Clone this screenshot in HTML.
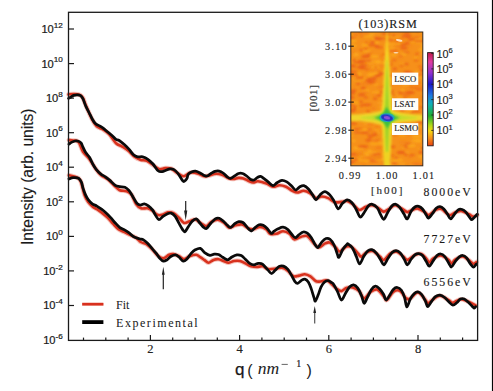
<!DOCTYPE html>
<html><head><meta charset="utf-8"><title>XRR</title>
<style>html,body{margin:0;padding:0;background:#fff;width:493px;height:391px;overflow:hidden}svg{display:block}</style>
</head><body>
<svg width="493" height="391" viewBox="0 0 493 391">
<defs>
<filter id="blur1" x="-50%" y="-50%" width="200%" height="200%"><feGaussianBlur stdDeviation="1.2"/></filter>
<filter id="blur2" x="-50%" y="-50%" width="200%" height="200%"><feGaussianBlur stdDeviation="2"/></filter>
<filter id="blur07" x="-20%" y="-20%" width="140%" height="140%"><feGaussianBlur stdDeviation="0.8"/></filter>
<filter id="blur05" x="-20%" y="-20%" width="140%" height="140%"><feGaussianBlur stdDeviation="0.5"/></filter>
<clipPath id="hclip"><rect x="350.8" y="32" width="72" height="133.8"/></clipPath>
<clipPath id="pclip"><rect x="69" y="12.5" width="408" height="327"/></clipPath>
<linearGradient id="cbar" x1="0" y1="0" x2="0" y2="1"><stop offset="0" stop-color="#c01848"/><stop offset="0.1" stop-color="#e03ca0"/><stop offset="0.22" stop-color="#9030d0"/><stop offset="0.34" stop-color="#1a18c8"/><stop offset="0.46" stop-color="#2078e0"/><stop offset="0.55" stop-color="#10b0b8"/><stop offset="0.68" stop-color="#20b030"/><stop offset="0.78" stop-color="#b0d818"/><stop offset="0.84" stop-color="#f8d810"/><stop offset="0.92" stop-color="#f89018"/><stop offset="1" stop-color="#e84010"/></linearGradient>
<radialGradient id="blob" cx="0.5" cy="0.5" r="0.5"><stop offset="0" stop-color="#7a3ad0"/><stop offset="0.18" stop-color="#3a2ad0"/><stop offset="0.32" stop-color="#2a8ad8"/><stop offset="0.48" stop-color="#20c070"/><stop offset="0.7" stop-color="#78d030" stop-opacity="0.9"/><stop offset="1" stop-color="#d8e030" stop-opacity="0"/></radialGradient>
<linearGradient id="vstreak" x1="0" y1="0" x2="0" y2="1"><stop offset="0" stop-color="#f8b820"/><stop offset="0.2" stop-color="#f4d424"/><stop offset="0.5" stop-color="#e8e02a"/><stop offset="1" stop-color="#f0d020"/></linearGradient>
</defs>
<rect x="0" y="0" width="493" height="391" fill="#fff"/>
<rect x="491" y="0" width="1" height="391" fill="#e8e8e8"/>
<rect x="492" y="0" width="1" height="391" fill="#050505"/>
<path d="M68.50,94.40 C69.37,94.35 71.82,94.02 73.70,94.10 C75.58,94.18 78.27,94.25 79.80,94.90 C81.33,95.55 81.88,96.22 82.90,98.00 C83.92,99.78 84.37,102.03 85.90,105.60 C87.43,109.17 90.30,115.95 92.10,119.40 C93.90,122.85 94.92,124.63 96.70,126.30 C98.48,127.97 100.75,128.12 102.80,129.40 C104.85,130.68 106.80,131.70 109.00,134.00 C111.20,136.30 113.78,141.10 116.00,143.20 C118.22,145.30 120.23,145.35 122.30,146.60 C124.37,147.85 126.35,149.00 128.40,150.70 C130.45,152.40 132.55,155.27 134.60,156.80 C136.65,158.33 138.67,159.22 140.70,159.90 C142.73,160.58 144.75,160.05 146.80,160.90 C148.85,161.75 150.95,163.63 153.00,165.00 C155.05,166.37 157.07,168.58 159.10,169.10 C161.13,169.62 163.15,168.17 165.20,168.10 C167.25,168.03 169.35,167.85 171.40,168.70 C173.45,169.55 175.45,171.93 177.50,173.20 C179.55,174.47 181.63,176.38 183.70,176.30 C185.77,176.22 188.07,173.30 189.90,172.70 C191.73,172.10 193.08,172.43 194.70,172.70 C196.32,172.97 197.97,173.70 199.60,174.30 C201.23,174.90 202.88,176.08 204.50,176.30 C206.12,176.52 207.68,175.98 209.30,175.60 C210.92,175.22 212.57,174.27 214.20,174.00 C215.83,173.73 217.48,173.73 219.10,174.00 C220.72,174.27 222.28,174.87 223.90,175.60 C225.52,176.33 227.17,177.85 228.80,178.40 C230.43,178.95 232.08,178.98 233.70,178.90 C235.32,178.82 236.88,177.98 238.50,177.90 C240.12,177.82 241.77,177.92 243.40,178.40 C245.03,178.88 246.67,180.12 248.30,180.80 C249.93,181.48 251.58,182.42 253.20,182.50 C254.82,182.58 255.78,181.13 258.00,181.30 C260.22,181.47 264.00,182.58 266.50,183.50 C269.00,184.42 270.83,186.52 273.00,186.80 C275.17,187.08 277.33,185.20 279.50,185.20 C281.67,185.20 283.83,185.87 286.00,186.80 C288.17,187.73 290.62,189.85 292.50,190.80 C294.38,191.75 295.42,192.50 297.30,192.50 C299.18,192.50 301.63,190.67 303.80,190.80 C305.97,190.93 308.27,192.08 310.30,193.30 C312.33,194.52 314.10,197.57 316.00,198.10 C317.90,198.63 319.67,196.50 321.70,196.50 C323.73,196.50 326.05,197.15 328.20,198.10 C330.35,199.05 332.38,201.57 334.60,202.20 C336.82,202.83 339.40,202.08 341.50,201.90 C343.60,201.72 345.30,200.70 347.20,201.10 C349.10,201.50 350.88,202.82 352.90,204.30 C354.92,205.78 357.15,209.58 359.30,210.00 C361.45,210.42 363.63,207.60 365.80,206.80 C367.97,206.00 370.13,204.93 372.30,205.20 C374.47,205.47 376.90,207.33 378.80,208.40 C380.70,209.47 382.07,211.47 383.70,211.60 C385.33,211.73 386.72,210.27 388.60,209.20 C390.48,208.13 392.85,205.33 395.00,205.20 C397.15,205.07 399.47,207.25 401.50,208.40 C403.53,209.55 405.60,211.75 407.20,212.10 C408.80,212.45 409.32,211.08 411.10,210.50 C412.88,209.92 415.62,208.33 417.90,208.60 C420.18,208.87 423.02,211.02 424.80,212.10 C426.58,213.18 426.83,215.43 428.60,215.10 C430.37,214.77 433.25,211.12 435.40,210.10 C437.55,209.08 439.22,208.17 441.50,209.00 C443.78,209.83 446.82,214.52 449.10,215.10 C451.38,215.68 453.17,213.18 455.20,212.50 C457.23,211.82 459.02,210.70 461.30,211.00 C463.58,211.30 466.87,213.37 468.90,214.30 C470.93,215.23 472.10,216.47 473.50,216.60 C474.90,216.73 476.67,215.35 477.30,215.10" fill="none" stroke="#ee8a7c" stroke-width="4.6" stroke-linejoin="round" stroke-linecap="round" opacity="0.5"/>
<path d="M68.50,94.40 C69.37,94.35 71.82,94.02 73.70,94.10 C75.58,94.18 78.27,94.25 79.80,94.90 C81.33,95.55 81.88,96.22 82.90,98.00 C83.92,99.78 84.37,102.03 85.90,105.60 C87.43,109.17 90.30,115.95 92.10,119.40 C93.90,122.85 94.92,124.63 96.70,126.30 C98.48,127.97 100.75,128.12 102.80,129.40 C104.85,130.68 106.80,131.70 109.00,134.00 C111.20,136.30 113.78,141.10 116.00,143.20 C118.22,145.30 120.23,145.35 122.30,146.60 C124.37,147.85 126.35,149.00 128.40,150.70 C130.45,152.40 132.55,155.27 134.60,156.80 C136.65,158.33 138.67,159.22 140.70,159.90 C142.73,160.58 144.75,160.05 146.80,160.90 C148.85,161.75 150.95,163.63 153.00,165.00 C155.05,166.37 157.07,168.58 159.10,169.10 C161.13,169.62 163.15,168.17 165.20,168.10 C167.25,168.03 169.35,167.85 171.40,168.70 C173.45,169.55 175.45,171.93 177.50,173.20 C179.55,174.47 181.63,176.38 183.70,176.30 C185.77,176.22 188.07,173.30 189.90,172.70 C191.73,172.10 193.08,172.43 194.70,172.70 C196.32,172.97 197.97,173.70 199.60,174.30 C201.23,174.90 202.88,176.08 204.50,176.30 C206.12,176.52 207.68,175.98 209.30,175.60 C210.92,175.22 212.57,174.27 214.20,174.00 C215.83,173.73 217.48,173.73 219.10,174.00 C220.72,174.27 222.28,174.87 223.90,175.60 C225.52,176.33 227.17,177.85 228.80,178.40 C230.43,178.95 232.08,178.98 233.70,178.90 C235.32,178.82 236.88,177.98 238.50,177.90 C240.12,177.82 241.77,177.92 243.40,178.40 C245.03,178.88 246.67,180.12 248.30,180.80 C249.93,181.48 251.58,182.42 253.20,182.50 C254.82,182.58 255.78,181.13 258.00,181.30 C260.22,181.47 264.00,182.58 266.50,183.50 C269.00,184.42 270.83,186.52 273.00,186.80 C275.17,187.08 277.33,185.20 279.50,185.20 C281.67,185.20 283.83,185.87 286.00,186.80 C288.17,187.73 290.62,189.85 292.50,190.80 C294.38,191.75 295.42,192.50 297.30,192.50 C299.18,192.50 301.63,190.67 303.80,190.80 C305.97,190.93 308.27,192.08 310.30,193.30 C312.33,194.52 314.10,197.57 316.00,198.10 C317.90,198.63 319.67,196.50 321.70,196.50 C323.73,196.50 326.05,197.15 328.20,198.10 C330.35,199.05 332.38,201.57 334.60,202.20 C336.82,202.83 339.40,202.08 341.50,201.90 C343.60,201.72 345.30,200.70 347.20,201.10 C349.10,201.50 350.88,202.82 352.90,204.30 C354.92,205.78 357.15,209.58 359.30,210.00 C361.45,210.42 363.63,207.60 365.80,206.80 C367.97,206.00 370.13,204.93 372.30,205.20 C374.47,205.47 376.90,207.33 378.80,208.40 C380.70,209.47 382.07,211.47 383.70,211.60 C385.33,211.73 386.72,210.27 388.60,209.20 C390.48,208.13 392.85,205.33 395.00,205.20 C397.15,205.07 399.47,207.25 401.50,208.40 C403.53,209.55 405.60,211.75 407.20,212.10 C408.80,212.45 409.32,211.08 411.10,210.50 C412.88,209.92 415.62,208.33 417.90,208.60 C420.18,208.87 423.02,211.02 424.80,212.10 C426.58,213.18 426.83,215.43 428.60,215.10 C430.37,214.77 433.25,211.12 435.40,210.10 C437.55,209.08 439.22,208.17 441.50,209.00 C443.78,209.83 446.82,214.52 449.10,215.10 C451.38,215.68 453.17,213.18 455.20,212.50 C457.23,211.82 459.02,210.70 461.30,211.00 C463.58,211.30 466.87,213.37 468.90,214.30 C470.93,215.23 472.10,216.47 473.50,216.60 C474.90,216.73 476.67,215.35 477.30,215.10" fill="none" stroke="#d8321e" stroke-width="2.6" stroke-linejoin="round" stroke-linecap="round"/>
<path d="M68.90,140.10 C69.62,140.18 71.60,140.30 73.20,140.60 C74.80,140.90 76.87,140.05 78.50,141.90 C80.13,143.75 81.20,148.87 83.00,151.70 C84.80,154.53 87.20,156.07 89.30,158.90 C91.40,161.73 93.67,166.02 95.60,168.70 C97.53,171.38 98.82,173.20 100.90,175.00 C102.98,176.80 105.85,177.72 108.10,179.50 C110.35,181.28 112.47,183.92 114.40,185.70 C116.33,187.48 117.68,189.28 119.70,190.20 C121.72,191.12 124.55,190.48 126.50,191.20 C128.45,191.92 129.78,192.33 131.40,194.50 C133.02,196.67 134.58,201.90 136.20,204.20 C137.82,206.50 139.20,207.62 141.10,208.30 C143.00,208.98 145.70,207.90 147.60,208.30 C149.50,208.70 150.88,209.62 152.50,210.70 C154.12,211.78 155.68,214.12 157.30,214.80 C158.92,215.48 160.43,215.22 162.20,214.80 C163.97,214.38 166.02,212.58 167.90,212.30 C169.78,212.02 171.62,212.15 173.50,213.10 C175.38,214.05 177.43,216.37 179.20,218.00 C180.97,219.63 182.33,222.37 184.10,222.90 C185.87,223.43 187.90,221.75 189.80,221.20 C191.70,220.65 193.55,219.18 195.50,219.60 C197.45,220.02 199.68,222.62 201.50,223.70 C203.32,224.78 204.78,226.38 206.40,226.10 C208.02,225.82 209.32,223.08 211.20,222.00 C213.08,220.92 215.53,219.45 217.70,219.60 C219.87,219.75 222.30,221.55 224.20,222.90 C226.10,224.25 227.20,227.30 229.10,227.70 C231.00,228.10 233.43,225.83 235.60,225.30 C237.77,224.77 239.95,223.97 242.10,224.50 C244.25,225.03 246.62,227.70 248.50,228.50 C250.38,229.30 251.50,229.57 253.40,229.30 C255.30,229.03 257.73,226.90 259.90,226.90 C262.07,226.90 264.72,228.17 266.40,229.30 C268.08,230.43 268.32,232.97 270.00,233.70 C271.68,234.43 274.33,234.12 276.50,233.70 C278.67,233.28 280.83,231.20 283.00,231.20 C285.17,231.20 287.62,232.35 289.50,233.70 C291.38,235.05 292.42,238.77 294.30,239.30 C296.18,239.83 298.63,237.43 300.80,236.90 C302.97,236.37 305.13,235.02 307.30,236.10 C309.47,237.18 311.90,241.50 313.80,243.40 C315.70,245.30 316.80,247.50 318.70,247.50 C320.60,247.50 323.32,244.22 325.20,243.40 C327.08,242.58 328.25,241.92 330.00,242.60 C331.75,243.28 334.07,246.02 335.70,247.50 C337.33,248.98 338.03,251.65 339.80,251.50 C341.57,251.35 344.35,247.37 346.30,246.60 C348.25,245.83 349.55,245.77 351.50,246.90 C353.45,248.03 356.38,251.78 358.00,253.40 C359.62,255.02 359.85,256.73 361.20,256.60 C362.55,256.47 364.20,253.53 366.10,252.60 C368.00,251.67 370.30,250.33 372.60,251.00 C374.90,251.67 378.02,255.12 379.90,256.60 C381.78,258.08 382.15,260.43 383.90,259.90 C385.65,259.37 388.23,254.75 390.40,253.40 C392.57,252.05 394.73,251.27 396.90,251.80 C399.07,252.33 401.63,255.25 403.40,256.60 C405.17,257.95 405.60,260.17 407.50,259.90 C409.40,259.63 412.50,256.00 414.80,255.00 C417.10,254.00 419.38,253.30 421.30,253.90 C423.22,254.50 424.97,257.17 426.30,258.60 C427.63,260.03 428.17,262.52 429.30,262.50 C430.43,262.48 431.18,259.67 433.10,258.50 C435.02,257.33 438.25,255.28 440.80,255.50 C443.35,255.72 446.63,258.47 448.40,259.80 C450.17,261.13 450.27,263.53 451.40,263.50 C452.53,263.47 453.30,260.77 455.20,259.60 C457.10,258.43 460.27,256.18 462.80,256.50 C465.33,256.82 468.62,260.28 470.40,261.50 C472.18,262.72 472.48,263.72 473.50,263.80 C474.52,263.88 476.00,262.30 476.50,262.00" fill="none" stroke="#ee8a7c" stroke-width="4.6" stroke-linejoin="round" stroke-linecap="round" opacity="0.5"/>
<path d="M68.90,140.10 C69.62,140.18 71.60,140.30 73.20,140.60 C74.80,140.90 76.87,140.05 78.50,141.90 C80.13,143.75 81.20,148.87 83.00,151.70 C84.80,154.53 87.20,156.07 89.30,158.90 C91.40,161.73 93.67,166.02 95.60,168.70 C97.53,171.38 98.82,173.20 100.90,175.00 C102.98,176.80 105.85,177.72 108.10,179.50 C110.35,181.28 112.47,183.92 114.40,185.70 C116.33,187.48 117.68,189.28 119.70,190.20 C121.72,191.12 124.55,190.48 126.50,191.20 C128.45,191.92 129.78,192.33 131.40,194.50 C133.02,196.67 134.58,201.90 136.20,204.20 C137.82,206.50 139.20,207.62 141.10,208.30 C143.00,208.98 145.70,207.90 147.60,208.30 C149.50,208.70 150.88,209.62 152.50,210.70 C154.12,211.78 155.68,214.12 157.30,214.80 C158.92,215.48 160.43,215.22 162.20,214.80 C163.97,214.38 166.02,212.58 167.90,212.30 C169.78,212.02 171.62,212.15 173.50,213.10 C175.38,214.05 177.43,216.37 179.20,218.00 C180.97,219.63 182.33,222.37 184.10,222.90 C185.87,223.43 187.90,221.75 189.80,221.20 C191.70,220.65 193.55,219.18 195.50,219.60 C197.45,220.02 199.68,222.62 201.50,223.70 C203.32,224.78 204.78,226.38 206.40,226.10 C208.02,225.82 209.32,223.08 211.20,222.00 C213.08,220.92 215.53,219.45 217.70,219.60 C219.87,219.75 222.30,221.55 224.20,222.90 C226.10,224.25 227.20,227.30 229.10,227.70 C231.00,228.10 233.43,225.83 235.60,225.30 C237.77,224.77 239.95,223.97 242.10,224.50 C244.25,225.03 246.62,227.70 248.50,228.50 C250.38,229.30 251.50,229.57 253.40,229.30 C255.30,229.03 257.73,226.90 259.90,226.90 C262.07,226.90 264.72,228.17 266.40,229.30 C268.08,230.43 268.32,232.97 270.00,233.70 C271.68,234.43 274.33,234.12 276.50,233.70 C278.67,233.28 280.83,231.20 283.00,231.20 C285.17,231.20 287.62,232.35 289.50,233.70 C291.38,235.05 292.42,238.77 294.30,239.30 C296.18,239.83 298.63,237.43 300.80,236.90 C302.97,236.37 305.13,235.02 307.30,236.10 C309.47,237.18 311.90,241.50 313.80,243.40 C315.70,245.30 316.80,247.50 318.70,247.50 C320.60,247.50 323.32,244.22 325.20,243.40 C327.08,242.58 328.25,241.92 330.00,242.60 C331.75,243.28 334.07,246.02 335.70,247.50 C337.33,248.98 338.03,251.65 339.80,251.50 C341.57,251.35 344.35,247.37 346.30,246.60 C348.25,245.83 349.55,245.77 351.50,246.90 C353.45,248.03 356.38,251.78 358.00,253.40 C359.62,255.02 359.85,256.73 361.20,256.60 C362.55,256.47 364.20,253.53 366.10,252.60 C368.00,251.67 370.30,250.33 372.60,251.00 C374.90,251.67 378.02,255.12 379.90,256.60 C381.78,258.08 382.15,260.43 383.90,259.90 C385.65,259.37 388.23,254.75 390.40,253.40 C392.57,252.05 394.73,251.27 396.90,251.80 C399.07,252.33 401.63,255.25 403.40,256.60 C405.17,257.95 405.60,260.17 407.50,259.90 C409.40,259.63 412.50,256.00 414.80,255.00 C417.10,254.00 419.38,253.30 421.30,253.90 C423.22,254.50 424.97,257.17 426.30,258.60 C427.63,260.03 428.17,262.52 429.30,262.50 C430.43,262.48 431.18,259.67 433.10,258.50 C435.02,257.33 438.25,255.28 440.80,255.50 C443.35,255.72 446.63,258.47 448.40,259.80 C450.17,261.13 450.27,263.53 451.40,263.50 C452.53,263.47 453.30,260.77 455.20,259.60 C457.10,258.43 460.27,256.18 462.80,256.50 C465.33,256.82 468.62,260.28 470.40,261.50 C472.18,262.72 472.48,263.72 473.50,263.80 C474.52,263.88 476.00,262.30 476.50,262.00" fill="none" stroke="#d8321e" stroke-width="2.6" stroke-linejoin="round" stroke-linecap="round"/>
<path d="M68.90,175.30 C69.92,175.55 73.10,175.95 75.00,176.80 C76.90,177.65 78.70,177.32 80.30,180.40 C81.90,183.48 83.25,191.67 84.60,195.30 C85.95,198.93 87.00,200.27 88.40,202.20 C89.80,204.13 91.58,205.73 93.00,206.90 C94.42,208.07 95.37,208.18 96.90,209.20 C98.43,210.22 100.42,211.60 102.20,213.00 C103.98,214.40 105.80,215.82 107.60,217.60 C109.40,219.38 111.20,221.78 113.00,223.70 C114.80,225.62 116.48,227.68 118.40,229.10 C120.32,230.52 122.47,231.18 124.50,232.20 C126.53,233.22 128.55,234.18 130.60,235.20 C132.65,236.22 135.12,237.17 136.80,238.30 C138.48,239.43 139.10,241.02 140.70,242.00 C142.30,242.98 144.52,243.02 146.40,244.20 C148.28,245.38 150.12,247.22 152.00,249.10 C153.88,250.98 155.80,253.95 157.70,255.50 C159.60,257.05 161.50,258.52 163.40,258.40 C165.30,258.28 167.45,255.52 169.10,254.80 C170.75,254.08 171.65,253.87 173.30,254.10 C174.95,254.33 177.22,255.37 179.00,256.20 C180.78,257.03 182.22,259.10 184.00,259.10 C185.78,259.10 187.68,256.92 189.70,256.20 C191.72,255.48 194.35,254.63 196.10,254.80 C197.85,254.97 198.83,256.35 200.20,257.20 C201.57,258.05 202.92,258.98 204.30,259.90 C205.68,260.82 206.97,262.70 208.50,262.70 C210.03,262.70 211.83,260.48 213.50,259.90 C215.17,259.32 216.73,258.97 218.50,259.20 C220.27,259.43 222.45,260.72 224.10,261.30 C225.75,261.88 226.73,262.75 228.40,262.70 C230.07,262.65 232.20,261.28 234.10,261.00 C236.00,260.72 237.92,260.60 239.80,261.00 C241.68,261.40 243.52,262.52 245.40,263.40 C247.28,264.28 249.20,265.70 251.10,266.30 C253.00,266.90 254.90,267.00 256.80,267.00 C258.70,267.00 260.60,265.95 262.50,266.30 C264.40,266.65 265.88,268.73 268.20,269.10 C270.52,269.47 274.10,268.72 276.40,268.50 C278.70,268.28 280.12,267.45 282.00,267.80 C283.88,268.15 285.80,269.18 287.70,270.60 C289.60,272.02 291.50,275.47 293.40,276.30 C295.30,277.13 297.20,275.95 299.10,275.60 C301.00,275.25 302.92,274.08 304.80,274.20 C306.68,274.32 308.52,275.12 310.40,276.30 C312.28,277.48 314.20,280.47 316.10,281.30 C318.00,282.13 319.90,281.42 321.80,281.30 C323.70,281.18 325.05,279.37 327.50,280.60 C329.95,281.83 334.18,286.95 336.50,288.70 C338.82,290.45 339.78,291.23 341.40,291.10 C343.02,290.97 344.32,288.50 346.20,287.90 C348.08,287.30 350.53,286.97 352.70,287.50 C354.87,288.03 357.30,289.28 359.20,291.10 C361.10,292.92 362.20,298.27 364.10,298.40 C366.00,298.53 368.43,293.38 370.60,291.90 C372.77,290.42 374.95,288.82 377.10,289.50 C379.25,290.18 381.88,294.25 383.50,296.00 C385.12,297.75 385.17,300.68 386.80,300.00 C388.43,299.32 391.13,293.43 393.30,291.90 C395.47,290.37 397.63,289.72 399.80,290.80 C401.97,291.88 404.55,297.12 406.30,298.40 C408.05,299.68 408.37,299.48 410.30,298.50 C412.23,297.52 415.37,292.25 417.90,292.50 C420.43,292.75 423.85,298.15 425.50,300.00 C427.15,301.85 426.78,303.52 427.80,303.60 C428.82,303.68 429.57,301.80 431.60,300.50 C433.63,299.20 437.08,295.80 440.00,295.80 C442.92,295.80 446.95,299.33 449.10,300.50 C451.25,301.67 451.00,303.02 452.90,302.80 C454.80,302.58 457.97,299.42 460.50,299.20 C463.03,298.98 465.57,300.45 468.10,301.50 C470.63,302.55 474.43,304.83 475.70,305.50" fill="none" stroke="#ee8a7c" stroke-width="4.6" stroke-linejoin="round" stroke-linecap="round" opacity="0.5"/>
<path d="M68.90,175.30 C69.92,175.55 73.10,175.95 75.00,176.80 C76.90,177.65 78.70,177.32 80.30,180.40 C81.90,183.48 83.25,191.67 84.60,195.30 C85.95,198.93 87.00,200.27 88.40,202.20 C89.80,204.13 91.58,205.73 93.00,206.90 C94.42,208.07 95.37,208.18 96.90,209.20 C98.43,210.22 100.42,211.60 102.20,213.00 C103.98,214.40 105.80,215.82 107.60,217.60 C109.40,219.38 111.20,221.78 113.00,223.70 C114.80,225.62 116.48,227.68 118.40,229.10 C120.32,230.52 122.47,231.18 124.50,232.20 C126.53,233.22 128.55,234.18 130.60,235.20 C132.65,236.22 135.12,237.17 136.80,238.30 C138.48,239.43 139.10,241.02 140.70,242.00 C142.30,242.98 144.52,243.02 146.40,244.20 C148.28,245.38 150.12,247.22 152.00,249.10 C153.88,250.98 155.80,253.95 157.70,255.50 C159.60,257.05 161.50,258.52 163.40,258.40 C165.30,258.28 167.45,255.52 169.10,254.80 C170.75,254.08 171.65,253.87 173.30,254.10 C174.95,254.33 177.22,255.37 179.00,256.20 C180.78,257.03 182.22,259.10 184.00,259.10 C185.78,259.10 187.68,256.92 189.70,256.20 C191.72,255.48 194.35,254.63 196.10,254.80 C197.85,254.97 198.83,256.35 200.20,257.20 C201.57,258.05 202.92,258.98 204.30,259.90 C205.68,260.82 206.97,262.70 208.50,262.70 C210.03,262.70 211.83,260.48 213.50,259.90 C215.17,259.32 216.73,258.97 218.50,259.20 C220.27,259.43 222.45,260.72 224.10,261.30 C225.75,261.88 226.73,262.75 228.40,262.70 C230.07,262.65 232.20,261.28 234.10,261.00 C236.00,260.72 237.92,260.60 239.80,261.00 C241.68,261.40 243.52,262.52 245.40,263.40 C247.28,264.28 249.20,265.70 251.10,266.30 C253.00,266.90 254.90,267.00 256.80,267.00 C258.70,267.00 260.60,265.95 262.50,266.30 C264.40,266.65 265.88,268.73 268.20,269.10 C270.52,269.47 274.10,268.72 276.40,268.50 C278.70,268.28 280.12,267.45 282.00,267.80 C283.88,268.15 285.80,269.18 287.70,270.60 C289.60,272.02 291.50,275.47 293.40,276.30 C295.30,277.13 297.20,275.95 299.10,275.60 C301.00,275.25 302.92,274.08 304.80,274.20 C306.68,274.32 308.52,275.12 310.40,276.30 C312.28,277.48 314.20,280.47 316.10,281.30 C318.00,282.13 319.90,281.42 321.80,281.30 C323.70,281.18 325.05,279.37 327.50,280.60 C329.95,281.83 334.18,286.95 336.50,288.70 C338.82,290.45 339.78,291.23 341.40,291.10 C343.02,290.97 344.32,288.50 346.20,287.90 C348.08,287.30 350.53,286.97 352.70,287.50 C354.87,288.03 357.30,289.28 359.20,291.10 C361.10,292.92 362.20,298.27 364.10,298.40 C366.00,298.53 368.43,293.38 370.60,291.90 C372.77,290.42 374.95,288.82 377.10,289.50 C379.25,290.18 381.88,294.25 383.50,296.00 C385.12,297.75 385.17,300.68 386.80,300.00 C388.43,299.32 391.13,293.43 393.30,291.90 C395.47,290.37 397.63,289.72 399.80,290.80 C401.97,291.88 404.55,297.12 406.30,298.40 C408.05,299.68 408.37,299.48 410.30,298.50 C412.23,297.52 415.37,292.25 417.90,292.50 C420.43,292.75 423.85,298.15 425.50,300.00 C427.15,301.85 426.78,303.52 427.80,303.60 C428.82,303.68 429.57,301.80 431.60,300.50 C433.63,299.20 437.08,295.80 440.00,295.80 C442.92,295.80 446.95,299.33 449.10,300.50 C451.25,301.67 451.00,303.02 452.90,302.80 C454.80,302.58 457.97,299.42 460.50,299.20 C463.03,298.98 465.57,300.45 468.10,301.50 C470.63,302.55 474.43,304.83 475.70,305.50" fill="none" stroke="#d8321e" stroke-width="2.6" stroke-linejoin="round" stroke-linecap="round"/>
<path d="M68.50,98.40 C68.85,98.20 69.73,97.70 70.60,97.20 C71.47,96.70 72.55,95.78 73.70,95.40 C74.85,95.02 76.35,94.85 77.50,94.90 C78.65,94.95 79.70,95.07 80.60,95.70 C81.50,96.33 82.02,96.92 82.90,98.70 C83.78,100.48 84.88,104.10 85.90,106.40 C86.92,108.70 87.97,110.45 89.00,112.50 C90.03,114.55 91.08,116.90 92.10,118.70 C93.12,120.50 93.95,122.15 95.10,123.30 C96.25,124.45 97.72,124.83 99.00,125.60 C100.28,126.37 101.40,126.88 102.80,127.90 C104.20,128.92 105.87,130.43 107.40,131.70 C108.93,132.97 110.57,134.22 112.00,135.50 C113.43,136.78 114.80,138.57 116.00,139.40 C117.20,140.23 117.82,139.63 119.20,140.50 C120.58,141.37 122.60,143.07 124.30,144.60 C126.00,146.13 127.87,148.00 129.40,149.70 C130.93,151.40 132.13,153.62 133.50,154.80 C134.87,155.98 136.07,156.47 137.60,156.80 C139.13,157.13 140.98,156.38 142.70,156.80 C144.42,157.22 146.18,158.10 147.90,159.30 C149.62,160.50 151.30,162.08 153.00,164.00 C154.70,165.92 156.57,169.53 158.10,170.80 C159.63,172.07 160.88,171.70 162.20,171.60 C163.52,171.50 164.70,170.67 166.00,170.20 C167.30,169.73 168.67,168.90 170.00,168.80 C171.33,168.70 172.67,168.82 174.00,169.60 C175.33,170.38 176.57,171.67 178.00,173.50 C179.43,175.33 181.55,179.30 182.60,180.60 C183.65,181.90 183.57,181.68 184.30,181.30 C185.03,180.92 186.35,179.47 187.00,178.30 C187.65,177.13 187.45,175.37 188.20,174.30 C188.95,173.23 190.28,172.43 191.50,171.90 C192.72,171.37 194.15,170.97 195.50,171.10 C196.85,171.23 198.23,172.02 199.60,172.70 C200.97,173.38 202.48,174.65 203.70,175.20 C204.92,175.75 205.68,176.28 206.90,176.00 C208.12,175.72 209.65,174.27 211.00,173.50 C212.35,172.73 213.65,171.80 215.00,171.40 C216.35,171.00 217.75,170.83 219.10,171.10 C220.45,171.37 221.75,172.05 223.10,173.00 C224.45,173.95 225.98,175.90 227.20,176.80 C228.42,177.70 229.18,178.53 230.40,178.40 C231.62,178.27 233.15,176.82 234.50,176.00 C235.85,175.18 237.15,173.92 238.50,173.50 C239.85,173.08 241.23,173.08 242.60,173.50 C243.97,173.92 245.35,175.00 246.70,176.00 C248.05,177.00 249.48,178.83 250.70,179.50 C251.92,180.17 252.92,180.32 254.00,180.00 C255.08,179.68 256.12,178.22 257.20,177.60 C258.28,176.98 259.35,176.12 260.50,176.30 C261.65,176.48 262.83,177.77 264.10,178.70 C265.37,179.63 266.62,180.75 268.10,181.90 C269.58,183.05 271.52,185.47 273.00,185.60 C274.48,185.73 275.52,183.58 277.00,182.70 C278.48,181.82 280.27,180.43 281.90,180.30 C283.53,180.17 285.18,180.95 286.80,181.90 C288.42,182.85 290.12,184.65 291.60,186.00 C293.08,187.35 294.33,189.87 295.70,190.00 C297.07,190.13 298.45,187.53 299.80,186.80 C301.15,186.07 302.32,185.20 303.80,185.60 C305.28,186.00 307.22,187.65 308.70,189.20 C310.18,190.75 311.48,193.13 312.70,194.90 C313.92,196.67 314.78,199.80 316.00,199.80 C317.22,199.80 318.52,196.27 320.00,194.90 C321.48,193.53 323.27,191.60 324.90,191.60 C326.53,191.60 328.32,193.40 329.80,194.90 C331.28,196.40 332.40,198.27 333.80,200.60 C335.20,202.93 336.78,208.42 338.20,208.90 C339.62,209.38 340.80,205.02 342.30,203.50 C343.80,201.98 345.58,199.93 347.20,199.80 C348.82,199.67 350.52,201.13 352.00,202.70 C353.48,204.27 354.73,206.82 356.10,209.20 C357.47,211.58 358.85,216.45 360.20,217.00 C361.55,217.55 362.85,214.33 364.20,212.50 C365.55,210.67 366.95,207.37 368.30,206.00 C369.65,204.63 370.82,204.03 372.30,204.30 C373.78,204.57 375.85,205.97 377.20,207.60 C378.55,209.23 379.32,212.15 380.40,214.10 C381.48,216.05 382.48,219.57 383.70,219.30 C384.92,219.03 386.35,214.72 387.70,212.50 C389.05,210.28 390.43,207.37 391.80,206.00 C393.17,204.63 394.55,204.03 395.90,204.30 C397.25,204.57 398.55,205.97 399.90,207.60 C401.25,209.23 402.78,212.22 404.00,214.10 C405.22,215.98 406.02,219.37 407.20,218.90 C408.38,218.43 409.82,213.28 411.10,211.30 C412.38,209.32 413.63,207.82 414.90,207.00 C416.17,206.18 417.43,206.07 418.70,206.40 C419.97,206.73 421.23,207.55 422.50,209.00 C423.77,210.45 425.28,213.58 426.30,215.10 C427.32,216.62 427.58,218.35 428.60,218.10 C429.62,217.85 431.13,215.23 432.40,213.60 C433.67,211.97 434.93,209.45 436.20,208.30 C437.47,207.15 438.73,206.58 440.00,206.70 C441.27,206.82 442.53,207.73 443.80,209.00 C445.07,210.27 446.47,212.65 447.60,214.30 C448.73,215.95 449.47,218.90 450.60,218.90 C451.73,218.90 453.13,215.82 454.40,214.30 C455.67,212.78 456.92,210.60 458.20,209.80 C459.48,209.00 460.82,209.12 462.10,209.50 C463.38,209.88 464.63,210.78 465.90,212.10 C467.17,213.42 468.70,216.13 469.70,217.40 C470.70,218.67 471.02,219.83 471.90,219.70 C472.78,219.57 474.10,217.50 475.00,216.60 C475.90,215.70 476.92,214.68 477.30,214.30" fill="none" stroke="#0a0a0a" stroke-width="2.75" stroke-linejoin="round" stroke-linecap="round"/>
<path d="M68.90,144.20 C69.32,143.90 70.38,142.93 71.40,142.40 C72.42,141.87 73.82,141.18 75.00,141.00 C76.18,140.82 77.47,140.95 78.50,141.30 C79.53,141.65 80.45,142.12 81.20,143.10 C81.95,144.08 82.25,145.62 83.00,147.20 C83.75,148.78 84.65,150.95 85.70,152.60 C86.75,154.25 88.10,155.17 89.30,157.10 C90.50,159.03 91.72,162.12 92.90,164.20 C94.08,166.28 95.07,167.95 96.40,169.60 C97.73,171.25 99.40,172.90 100.90,174.10 C102.40,175.30 103.90,175.75 105.40,176.80 C106.90,177.85 108.25,178.97 109.90,180.40 C111.55,181.83 113.67,184.37 115.30,185.40 C116.93,186.43 118.10,186.30 119.70,186.60 C121.30,186.90 123.37,186.57 124.90,187.20 C126.43,187.83 127.55,188.78 128.90,190.40 C130.25,192.02 131.65,194.73 133.00,196.90 C134.35,199.07 135.78,202.05 137.00,203.40 C138.22,204.75 139.08,204.92 140.30,205.00 C141.52,205.08 142.95,203.77 144.30,203.90 C145.65,204.03 147.03,204.80 148.40,205.80 C149.77,206.80 151.28,208.27 152.50,209.90 C153.72,211.53 154.63,213.98 155.70,215.60 C156.77,217.22 157.68,219.47 158.90,219.60 C160.12,219.73 161.63,217.35 163.00,216.40 C164.37,215.45 165.75,214.45 167.10,213.90 C168.45,213.35 169.75,212.68 171.10,213.10 C172.45,213.52 173.85,214.63 175.20,216.40 C176.55,218.17 177.98,221.53 179.20,223.70 C180.42,225.87 181.55,228.05 182.50,229.40 C183.45,230.75 183.95,232.22 184.90,231.80 C185.85,231.38 186.98,228.67 188.20,226.90 C189.42,225.13 190.85,222.55 192.20,221.20 C193.55,219.85 195.15,218.67 196.30,218.80 C197.45,218.93 197.97,220.65 199.10,222.00 C200.23,223.35 201.88,225.82 203.10,226.90 C204.32,227.98 205.18,229.03 206.40,228.50 C207.62,227.97 208.92,225.32 210.40,223.70 C211.88,222.08 213.82,219.70 215.30,218.80 C216.78,217.90 217.95,217.90 219.30,218.30 C220.65,218.70 222.03,220.03 223.40,221.20 C224.77,222.37 226.28,224.27 227.50,225.30 C228.72,226.33 229.48,227.67 230.70,227.40 C231.92,227.13 233.45,224.67 234.80,223.70 C236.15,222.73 237.45,221.80 238.80,221.60 C240.15,221.40 241.55,221.62 242.90,222.50 C244.25,223.38 245.55,225.48 246.90,226.90 C248.25,228.32 249.65,230.87 251.00,231.00 C252.35,231.13 253.65,228.73 255.00,227.70 C256.35,226.67 257.73,225.20 259.10,224.80 C260.47,224.40 261.85,224.68 263.20,225.30 C264.55,225.92 265.85,227.15 267.20,228.50 C268.55,229.85 270.15,232.95 271.30,233.40 C272.45,233.85 272.97,231.97 274.10,231.20 C275.23,230.43 276.62,229.47 278.10,228.80 C279.58,228.13 281.37,227.07 283.00,227.20 C284.63,227.33 286.42,228.38 287.90,229.60 C289.38,230.82 290.68,233.15 291.90,234.50 C293.12,235.85 293.98,237.70 295.20,237.70 C296.42,237.70 297.85,235.45 299.20,234.50 C300.55,233.55 301.95,232.22 303.30,232.00 C304.65,231.78 305.95,232.25 307.30,233.20 C308.65,234.15 310.05,235.73 311.40,237.70 C312.75,239.67 314.32,243.37 315.40,245.00 C316.48,246.63 316.82,248.03 317.90,247.50 C318.98,246.97 320.55,243.30 321.90,241.80 C323.25,240.30 324.65,238.92 326.00,238.50 C327.35,238.08 328.65,238.22 330.00,239.30 C331.35,240.38 332.88,242.57 334.10,245.00 C335.32,247.43 336.48,251.87 337.30,253.90 C338.12,255.93 338.05,258.00 339.00,257.20 C339.95,256.40 341.65,251.27 343.00,249.10 C344.35,246.93 346.23,245.03 347.10,244.20 C347.97,243.37 347.33,243.52 348.20,244.10 C349.07,244.68 350.93,245.62 352.30,247.70 C353.67,249.78 355.18,253.90 356.40,256.60 C357.62,259.30 358.38,263.90 359.60,263.90 C360.82,263.90 362.35,258.75 363.70,256.60 C365.05,254.45 366.35,252.15 367.70,251.00 C369.05,249.85 370.32,249.30 371.80,249.70 C373.28,250.10 375.12,251.70 376.60,253.40 C378.08,255.10 379.48,258.00 380.70,259.90 C381.92,261.80 382.68,265.07 383.90,264.80 C385.12,264.53 386.63,260.33 388.00,258.30 C389.37,256.27 390.75,253.88 392.10,252.60 C393.45,251.32 394.75,250.55 396.10,250.60 C397.45,250.65 398.85,251.48 400.20,252.90 C401.55,254.32 403.00,257.12 404.20,259.10 C405.40,261.08 406.25,264.77 407.40,264.80 C408.55,264.83 409.85,260.97 411.10,259.30 C412.35,257.63 413.63,255.75 414.90,254.80 C416.17,253.85 417.43,253.48 418.70,253.60 C419.97,253.72 421.23,254.17 422.50,255.50 C423.77,256.83 425.17,259.82 426.30,261.60 C427.43,263.38 428.17,266.32 429.30,266.20 C430.43,266.08 431.82,262.68 433.10,260.90 C434.38,259.12 435.72,256.65 437.00,255.50 C438.28,254.35 439.53,253.87 440.80,254.00 C442.07,254.13 443.33,254.90 444.60,256.30 C445.87,257.70 447.27,260.62 448.40,262.40 C449.53,264.18 450.27,267.13 451.40,267.00 C452.53,266.87 453.93,263.25 455.20,261.60 C456.47,259.95 457.73,258.12 459.00,257.10 C460.27,256.08 461.53,255.38 462.80,255.50 C464.07,255.62 465.33,256.40 466.60,257.80 C467.87,259.20 469.25,262.37 470.40,263.90 C471.55,265.43 472.48,267.00 473.50,267.00 C474.52,267.00 476.00,264.42 476.50,263.90" fill="none" stroke="#0a0a0a" stroke-width="2.75" stroke-linejoin="round" stroke-linecap="round"/>
<path d="M68.90,178.90 C69.62,178.70 71.60,177.82 73.20,177.70 C74.80,177.58 77.12,177.43 78.50,178.20 C79.88,178.97 80.73,180.60 81.50,182.30 C82.27,184.00 82.45,186.35 83.10,188.40 C83.75,190.45 84.52,192.68 85.40,194.60 C86.28,196.52 87.25,198.37 88.40,199.90 C89.55,201.43 90.88,202.77 92.30,203.80 C93.72,204.83 95.37,205.20 96.90,206.10 C98.43,207.00 99.97,208.05 101.50,209.20 C103.03,210.35 104.57,211.60 106.10,213.00 C107.63,214.40 109.17,215.93 110.70,217.60 C112.23,219.27 113.77,221.33 115.30,223.00 C116.83,224.67 118.37,226.45 119.90,227.60 C121.43,228.75 122.97,229.02 124.50,229.90 C126.03,230.78 127.57,231.75 129.10,232.90 C130.63,234.05 132.00,235.82 133.70,236.80 C135.40,237.78 137.67,238.28 139.30,238.80 C140.93,239.32 142.08,239.12 143.50,239.90 C144.92,240.68 146.38,242.08 147.80,243.50 C149.22,244.92 150.58,246.75 152.00,248.40 C153.42,250.05 155.00,251.73 156.30,253.40 C157.60,255.07 158.62,257.10 159.80,258.40 C160.98,259.70 162.20,260.97 163.40,261.20 C164.60,261.43 165.70,260.63 167.00,259.80 C168.30,258.97 169.78,257.03 171.20,256.20 C172.62,255.37 174.20,254.67 175.50,254.80 C176.80,254.93 177.70,255.93 179.00,257.00 C180.30,258.07 182.00,260.85 183.30,261.20 C184.60,261.55 185.50,260.40 186.80,259.10 C188.10,257.80 189.68,254.95 191.10,253.40 C192.52,251.85 193.77,250.63 195.30,249.80 C196.83,248.97 198.68,247.90 200.30,248.40 C201.92,248.90 203.40,251.65 205.00,252.80 C206.60,253.95 208.37,255.07 209.90,255.30 C211.43,255.53 212.77,254.33 214.20,254.20 C215.63,254.07 217.08,253.98 218.50,254.50 C219.92,255.02 221.17,256.40 222.70,257.30 C224.23,258.20 226.17,259.95 227.70,259.90 C229.23,259.85 230.37,257.83 231.90,257.00 C233.43,256.17 235.35,255.13 236.90,254.90 C238.45,254.67 239.78,254.88 241.20,255.60 C242.62,256.32 243.98,257.90 245.40,259.20 C246.82,260.50 248.27,262.47 249.70,263.40 C251.13,264.33 252.58,264.80 254.00,264.80 C255.42,264.80 256.78,263.52 258.20,263.40 C259.62,263.28 260.90,263.02 262.50,264.10 C264.10,265.18 266.32,268.33 267.80,269.90 C269.28,271.47 270.22,273.38 271.40,273.50 C272.58,273.62 273.60,271.78 274.90,270.60 C276.20,269.42 277.77,267.15 279.20,266.40 C280.63,265.65 282.08,265.63 283.50,266.10 C284.92,266.57 286.40,267.73 287.70,269.20 C289.00,270.67 290.12,272.88 291.30,274.90 C292.48,276.92 293.73,279.88 294.80,281.30 C295.87,282.72 296.63,283.52 297.70,283.40 C298.77,283.28 300.02,281.32 301.20,280.60 C302.38,279.88 303.62,278.87 304.80,279.10 C305.98,279.33 307.25,280.45 308.30,282.00 C309.35,283.55 310.15,285.80 311.10,288.40 C312.05,291.00 313.28,295.48 314.00,297.60 C314.72,299.72 314.70,301.57 315.40,301.10 C316.10,300.63 317.25,297.17 318.20,294.80 C319.15,292.43 320.03,289.03 321.10,286.90 C322.17,284.77 323.42,283.05 324.60,282.00 C325.78,280.95 327.02,280.48 328.20,280.60 C329.38,280.72 330.87,282.17 331.70,282.70 C332.53,283.23 332.27,282.40 333.20,283.80 C334.13,285.20 335.93,288.40 337.30,291.10 C338.67,293.80 340.05,299.60 341.40,300.00 C342.75,300.40 344.05,295.67 345.40,293.50 C346.75,291.33 348.15,288.43 349.50,287.00 C350.85,285.57 352.15,284.75 353.50,284.90 C354.85,285.05 356.25,286.05 357.60,287.90 C358.95,289.75 360.52,293.43 361.60,296.00 C362.68,298.57 363.15,303.03 364.10,303.30 C365.05,303.57 366.08,299.90 367.30,297.60 C368.52,295.30 370.05,291.40 371.40,289.50 C372.75,287.60 374.05,286.33 375.40,286.20 C376.75,286.07 378.15,287.35 379.50,288.70 C380.85,290.05 382.42,292.42 383.50,294.30 C384.58,296.18 385.05,299.72 386.00,300.00 C386.95,300.28 387.98,297.75 389.20,296.00 C390.42,294.25 391.95,290.92 393.30,289.50 C394.65,288.08 395.95,287.37 397.30,287.50 C398.65,287.63 400.18,288.62 401.40,290.30 C402.62,291.98 403.68,294.82 404.60,297.60 C405.52,300.38 405.95,306.77 406.90,307.00 C407.85,307.23 409.10,301.22 410.30,299.00 C411.50,296.78 412.83,294.88 414.10,293.70 C415.37,292.52 416.63,291.77 417.90,291.90 C419.17,292.03 420.43,292.93 421.70,294.50 C422.97,296.07 424.48,299.28 425.50,301.30 C426.52,303.32 426.78,306.60 427.80,306.60 C428.82,306.60 430.33,302.95 431.60,301.30 C432.87,299.65 434.00,297.72 435.40,296.70 C436.80,295.68 438.47,295.07 440.00,295.20 C441.53,295.33 443.08,296.35 444.60,297.50 C446.12,298.65 447.72,300.83 449.10,302.10 C450.48,303.37 451.63,304.98 452.90,305.10 C454.17,305.22 455.43,303.82 456.70,302.80 C457.97,301.78 459.23,299.63 460.50,299.00 C461.77,298.37 463.03,298.48 464.30,299.00 C465.57,299.52 466.83,300.95 468.10,302.10 C469.37,303.25 470.88,304.90 471.90,305.90 C472.92,306.90 473.57,307.98 474.20,308.10 C474.83,308.22 475.45,306.85 475.70,306.60" fill="none" stroke="#0a0a0a" stroke-width="2.75" stroke-linejoin="round" stroke-linecap="round"/>
<line x1="185.7" y1="201" x2="185.7" y2="214" stroke="#222" stroke-width="1.2"/>
<path d="M184.1,210.5 L187.3,210.5 L185.7,220.4 Z" fill="#222"/>
<line x1="163.3" y1="273" x2="163.3" y2="289.3" stroke="#222" stroke-width="1.2"/>
<path d="M161.9,274.8 L164.7,274.8 L163.3,266.8 Z" fill="#222"/>
<line x1="314.7" y1="311" x2="314.7" y2="323.4" stroke="#555" stroke-width="1.2"/>
<path d="M313.3,313 L316.1,313 L314.7,306.1 Z" fill="#222"/>
<rect x="68.5" y="12.3" width="409.1" height="328.09999999999997" fill="none" stroke="#1a1a1a" stroke-width="1.3"/>
<line x1="68.5" y1="29.0" x2="74.0" y2="29.0" stroke="#1a1a1a" stroke-width="1.2"/>
<text transform="translate(62.8,32.9) scale(1.07,1)" text-anchor="end" font-family="'Liberation Sans', sans-serif" font-size="10.4" fill="#1a1a1a" stroke="#1a1a1a" stroke-width="0.2">10<tspan dy="-5.2" font-size="7.6">12</tspan></text>
<line x1="68.5" y1="63.6" x2="74.0" y2="63.6" stroke="#1a1a1a" stroke-width="1.2"/>
<text transform="translate(62.8,67.5) scale(1.07,1)" text-anchor="end" font-family="'Liberation Sans', sans-serif" font-size="10.4" fill="#1a1a1a" stroke="#1a1a1a" stroke-width="0.2">10<tspan dy="-5.2" font-size="7.6">10</tspan></text>
<line x1="68.5" y1="98.1" x2="74.0" y2="98.1" stroke="#1a1a1a" stroke-width="1.2"/>
<text transform="translate(62.8,102.0) scale(1.07,1)" text-anchor="end" font-family="'Liberation Sans', sans-serif" font-size="10.4" fill="#1a1a1a" stroke="#1a1a1a" stroke-width="0.2">10<tspan dy="-5.2" font-size="7.6">8</tspan></text>
<line x1="68.5" y1="132.7" x2="74.0" y2="132.7" stroke="#1a1a1a" stroke-width="1.2"/>
<text transform="translate(62.8,136.6) scale(1.07,1)" text-anchor="end" font-family="'Liberation Sans', sans-serif" font-size="10.4" fill="#1a1a1a" stroke="#1a1a1a" stroke-width="0.2">10<tspan dy="-5.2" font-size="7.6">6</tspan></text>
<line x1="68.5" y1="167.2" x2="74.0" y2="167.2" stroke="#1a1a1a" stroke-width="1.2"/>
<text transform="translate(62.8,171.1) scale(1.07,1)" text-anchor="end" font-family="'Liberation Sans', sans-serif" font-size="10.4" fill="#1a1a1a" stroke="#1a1a1a" stroke-width="0.2">10<tspan dy="-5.2" font-size="7.6">4</tspan></text>
<line x1="68.5" y1="201.8" x2="74.0" y2="201.8" stroke="#1a1a1a" stroke-width="1.2"/>
<text transform="translate(62.8,205.7) scale(1.07,1)" text-anchor="end" font-family="'Liberation Sans', sans-serif" font-size="10.4" fill="#1a1a1a" stroke="#1a1a1a" stroke-width="0.2">10<tspan dy="-5.2" font-size="7.6">2</tspan></text>
<line x1="68.5" y1="236.4" x2="74.0" y2="236.4" stroke="#1a1a1a" stroke-width="1.2"/>
<text transform="translate(62.8,240.3) scale(1.07,1)" text-anchor="end" font-family="'Liberation Sans', sans-serif" font-size="10.4" fill="#1a1a1a" stroke="#1a1a1a" stroke-width="0.2">10<tspan dy="-5.2" font-size="7.6">0</tspan></text>
<line x1="68.5" y1="270.9" x2="74.0" y2="270.9" stroke="#1a1a1a" stroke-width="1.2"/>
<text transform="translate(62.8,274.8) scale(1.07,1)" text-anchor="end" font-family="'Liberation Sans', sans-serif" font-size="10.4" fill="#1a1a1a" stroke="#1a1a1a" stroke-width="0.2">10<tspan dy="-5.2" font-size="7.6">-2</tspan></text>
<line x1="68.5" y1="305.5" x2="74.0" y2="305.5" stroke="#1a1a1a" stroke-width="1.2"/>
<text transform="translate(62.8,309.4) scale(1.07,1)" text-anchor="end" font-family="'Liberation Sans', sans-serif" font-size="10.4" fill="#1a1a1a" stroke="#1a1a1a" stroke-width="0.2">10<tspan dy="-5.2" font-size="7.6">-4</tspan></text>
<text transform="translate(62.8,343.9) scale(1.07,1)" text-anchor="end" font-family="'Liberation Sans', sans-serif" font-size="10.4" fill="#1a1a1a" stroke="#1a1a1a" stroke-width="0.2">10<tspan dy="-5.2" font-size="7.6">-6</tspan></text>
<line x1="83.5" y1="340.4" x2="83.5" y2="337.6" stroke="#1a1a1a" stroke-width="1.2"/>
<line x1="105.8" y1="340.4" x2="105.8" y2="337.6" stroke="#1a1a1a" stroke-width="1.2"/>
<line x1="128.1" y1="340.4" x2="128.1" y2="337.6" stroke="#1a1a1a" stroke-width="1.2"/>
<line x1="150.4" y1="340.4" x2="150.4" y2="335.1" stroke="#1a1a1a" stroke-width="1.2"/>
<text x="150.4" y="353.2" text-anchor="middle" font-family="'Liberation Serif', serif" font-size="12.5" fill="#222" stroke="#222" stroke-width="0.15">2</text>
<line x1="172.7" y1="340.4" x2="172.7" y2="337.6" stroke="#1a1a1a" stroke-width="1.2"/>
<line x1="195.0" y1="340.4" x2="195.0" y2="337.6" stroke="#1a1a1a" stroke-width="1.2"/>
<line x1="217.3" y1="340.4" x2="217.3" y2="337.6" stroke="#1a1a1a" stroke-width="1.2"/>
<line x1="239.6" y1="340.4" x2="239.6" y2="335.1" stroke="#1a1a1a" stroke-width="1.2"/>
<text x="239.6" y="353.2" text-anchor="middle" font-family="'Liberation Serif', serif" font-size="12.5" fill="#222" stroke="#222" stroke-width="0.15">4</text>
<line x1="261.9" y1="340.4" x2="261.9" y2="337.6" stroke="#1a1a1a" stroke-width="1.2"/>
<line x1="284.2" y1="340.4" x2="284.2" y2="337.6" stroke="#1a1a1a" stroke-width="1.2"/>
<line x1="306.5" y1="340.4" x2="306.5" y2="337.6" stroke="#1a1a1a" stroke-width="1.2"/>
<line x1="328.8" y1="340.4" x2="328.8" y2="335.1" stroke="#1a1a1a" stroke-width="1.2"/>
<text x="328.8" y="353.2" text-anchor="middle" font-family="'Liberation Serif', serif" font-size="12.5" fill="#222" stroke="#222" stroke-width="0.15">6</text>
<line x1="351.1" y1="340.4" x2="351.1" y2="337.6" stroke="#1a1a1a" stroke-width="1.2"/>
<line x1="373.4" y1="340.4" x2="373.4" y2="337.6" stroke="#1a1a1a" stroke-width="1.2"/>
<line x1="395.7" y1="340.4" x2="395.7" y2="337.6" stroke="#1a1a1a" stroke-width="1.2"/>
<line x1="418.0" y1="340.4" x2="418.0" y2="335.1" stroke="#1a1a1a" stroke-width="1.2"/>
<text x="418.0" y="353.2" text-anchor="middle" font-family="'Liberation Serif', serif" font-size="12.5" fill="#222" stroke="#222" stroke-width="0.15">8</text>
<line x1="440.3" y1="340.4" x2="440.3" y2="337.6" stroke="#1a1a1a" stroke-width="1.2"/>
<line x1="462.6" y1="340.4" x2="462.6" y2="337.6" stroke="#1a1a1a" stroke-width="1.2"/>
<text transform="translate(33.2,245.0) rotate(-90)" font-family="'Liberation Sans', sans-serif" font-size="16" fill="#1a1a1a" stroke="#1a1a1a" stroke-width="0.15" textLength="136.4" lengthAdjust="spacingAndGlyphs">Intensity (arb. units)</text>
<text x="235" y="375.2" font-family="'Liberation Sans', sans-serif" font-size="17" fill="#1a1a1a" stroke="#1a1a1a" stroke-width="0.25">q</text>
<text x="247.3" y="375.5" font-family="'Liberation Sans', sans-serif" font-size="16" fill="#222">(</text>
<text x="257.8" y="374.3" font-family="'Liberation Serif', serif" font-size="17.6" font-style="italic" fill="#222">nm</text>
<line x1="281.6" y1="364.4" x2="287.8" y2="364.4" stroke="#555" stroke-width="0.9"/>
<text x="296.2" y="367.2" font-family="'Liberation Serif', serif" font-size="10" fill="#222" stroke="#222" stroke-width="0.2">1</text>
<text x="306.6" y="375.5" font-family="'Liberation Sans', sans-serif" font-size="16" fill="#222">)</text>
<line x1="82.2" y1="304.2" x2="103.4" y2="304.2" stroke="#f09080" stroke-width="3.6" opacity="0.6"/>
<line x1="82.2" y1="304.2" x2="103.4" y2="304.2" stroke="#d8301e" stroke-width="2.5"/>
<line x1="82.2" y1="322.1" x2="103.4" y2="322.1" stroke="#000" stroke-width="3.8"/>
<text x="116" y="308.6" font-family="'Liberation Serif', serif" font-size="12" fill="#1a1a1a" stroke="#1a1a1a" stroke-width="0.05" letter-spacing="0">Fit</text>
<text x="116" y="326.8" font-family="'Liberation Serif', serif" font-size="12" fill="#1a1a1a" stroke="#1a1a1a" stroke-width="0.05" letter-spacing="1.55">Experimental</text>
<text x="423.5" y="196.4" font-family="'Liberation Serif', serif" font-size="11.8" fill="#1a1a1a" stroke="#1a1a1a" stroke-width="0.12" letter-spacing="2.0">8000eV</text>
<text x="423.5" y="242.9" font-family="'Liberation Serif', serif" font-size="11.8" fill="#1a1a1a" stroke="#1a1a1a" stroke-width="0.12" letter-spacing="2.0">7727eV</text>
<text x="423.5" y="285.5" font-family="'Liberation Serif', serif" font-size="11.8" fill="#1a1a1a" stroke="#1a1a1a" stroke-width="0.12" letter-spacing="2.0">6556eV</text>
<g clip-path="url(#hclip)">
<rect x="350.8" y="32.0" width="72.0" height="133.8" fill="#f6901a"/>
<g filter="url(#blur07)">
<ellipse cx="383.0" cy="107.3" rx="4.7" ry="1.1" fill="#fcac1c" opacity="0.8"/>
<ellipse cx="393.8" cy="54.8" rx="3.3" ry="1.3" fill="#fcac1c" opacity="0.8"/>
<ellipse cx="354.3" cy="71.4" rx="1.8" ry="1.4" fill="#fcac1c" opacity="0.8"/>
<ellipse cx="350.2" cy="166.3" rx="4.9" ry="1.3" fill="#fcac1c" opacity="0.8"/>
<ellipse cx="359.4" cy="31.1" rx="3.3" ry="0.8" fill="#ea5c16" opacity="0.8"/>
<ellipse cx="366.2" cy="33.2" rx="3.1" ry="1.1" fill="#f4801a" opacity="0.8"/>
<ellipse cx="388.3" cy="118.5" rx="3.2" ry="1.3" fill="#ea5c16" opacity="0.8"/>
<ellipse cx="369.1" cy="168.5" rx="5.0" ry="1.5" fill="#fcac1c" opacity="0.8"/>
<ellipse cx="372.0" cy="61.1" rx="2.5" ry="0.8" fill="#fcac1c" opacity="0.8"/>
<ellipse cx="378.8" cy="147.4" rx="2.9" ry="1.6" fill="#f4801a" opacity="0.8"/>
<ellipse cx="346.8" cy="58.3" rx="4.7" ry="1.1" fill="#f4801a" opacity="0.8"/>
<ellipse cx="378.6" cy="39.2" rx="3.7" ry="1.4" fill="#ea5c16" opacity="0.8"/>
<ellipse cx="353.8" cy="75.5" rx="4.9" ry="1.4" fill="#ea5c16" opacity="0.8"/>
<ellipse cx="366.5" cy="43.1" rx="1.7" ry="1.4" fill="#ea5c16" opacity="0.8"/>
<ellipse cx="391.5" cy="91.5" rx="2.2" ry="1.4" fill="#ea5c16" opacity="0.8"/>
<ellipse cx="398.3" cy="45.3" rx="3.0" ry="0.9" fill="#ea5c16" opacity="0.8"/>
<ellipse cx="424.5" cy="141.3" rx="2.6" ry="1.5" fill="#ea5c16" opacity="0.8"/>
<ellipse cx="378.3" cy="148.4" rx="3.7" ry="0.8" fill="#f4801a" opacity="0.8"/>
<ellipse cx="363.9" cy="65.1" rx="4.2" ry="1.0" fill="#ea5c16" opacity="0.8"/>
<ellipse cx="352.7" cy="41.6" rx="3.5" ry="0.9" fill="#fcac1c" opacity="0.8"/>
<ellipse cx="376.5" cy="92.4" rx="4.9" ry="1.1" fill="#fcac1c" opacity="0.8"/>
<ellipse cx="416.1" cy="54.6" rx="2.0" ry="1.5" fill="#f4801a" opacity="0.8"/>
<ellipse cx="366.8" cy="55.5" rx="4.1" ry="1.5" fill="#ea5c16" opacity="0.8"/>
<ellipse cx="422.8" cy="152.3" rx="3.6" ry="1.1" fill="#ea5c16" opacity="0.8"/>
<ellipse cx="349.9" cy="163.6" rx="2.3" ry="1.3" fill="#ea5c16" opacity="0.8"/>
<ellipse cx="412.7" cy="112.4" rx="2.5" ry="0.9" fill="#fcac1c" opacity="0.8"/>
<ellipse cx="352.3" cy="60.9" rx="3.5" ry="1.5" fill="#fcac1c" opacity="0.8"/>
<ellipse cx="369.2" cy="157.2" rx="2.2" ry="0.7" fill="#ea5c16" opacity="0.8"/>
<ellipse cx="382.5" cy="37.5" rx="2.1" ry="1.0" fill="#fcac1c" opacity="0.8"/>
<ellipse cx="357.3" cy="79.6" rx="4.6" ry="1.6" fill="#fcac1c" opacity="0.8"/>
<ellipse cx="402.1" cy="110.7" rx="2.0" ry="0.7" fill="#ea5c16" opacity="0.8"/>
<ellipse cx="419.6" cy="127.0" rx="4.9" ry="0.7" fill="#fcac1c" opacity="0.8"/>
<ellipse cx="385.4" cy="131.1" rx="2.6" ry="1.6" fill="#ea5c16" opacity="0.8"/>
<ellipse cx="390.5" cy="132.0" rx="4.7" ry="1.4" fill="#fcac1c" opacity="0.8"/>
<ellipse cx="410.3" cy="156.9" rx="2.7" ry="1.3" fill="#f4801a" opacity="0.8"/>
<ellipse cx="416.5" cy="87.3" rx="4.3" ry="1.5" fill="#fcac1c" opacity="0.8"/>
<ellipse cx="396.8" cy="82.5" rx="3.5" ry="1.2" fill="#ea5c16" opacity="0.8"/>
<ellipse cx="398.0" cy="167.9" rx="4.6" ry="1.4" fill="#ea5c16" opacity="0.8"/>
<ellipse cx="405.6" cy="110.2" rx="3.0" ry="1.5" fill="#ea5c16" opacity="0.8"/>
<ellipse cx="406.8" cy="33.2" rx="3.6" ry="1.1" fill="#ea5c16" opacity="0.8"/>
<ellipse cx="402.7" cy="98.5" rx="3.7" ry="1.5" fill="#ea5c16" opacity="0.8"/>
<ellipse cx="347.7" cy="71.1" rx="3.9" ry="0.9" fill="#ea5c16" opacity="0.8"/>
<ellipse cx="419.3" cy="121.3" rx="3.0" ry="1.5" fill="#ea5c16" opacity="0.8"/>
<ellipse cx="400.1" cy="56.8" rx="3.0" ry="1.4" fill="#f4801a" opacity="0.8"/>
<ellipse cx="417.2" cy="82.7" rx="3.5" ry="1.0" fill="#ea5c16" opacity="0.8"/>
<ellipse cx="386.5" cy="146.0" rx="4.5" ry="1.3" fill="#f4801a" opacity="0.8"/>
<ellipse cx="368.9" cy="52.6" rx="3.1" ry="0.9" fill="#ea5c16" opacity="0.8"/>
<ellipse cx="379.9" cy="116.5" rx="3.2" ry="1.0" fill="#f4801a" opacity="0.8"/>
<ellipse cx="425.4" cy="92.3" rx="1.8" ry="0.7" fill="#f4801a" opacity="0.8"/>
<ellipse cx="350.1" cy="128.1" rx="3.5" ry="1.0" fill="#fcac1c" opacity="0.8"/>
<ellipse cx="348.3" cy="48.0" rx="3.1" ry="0.7" fill="#f4801a" opacity="0.8"/>
<ellipse cx="365.8" cy="48.7" rx="1.7" ry="1.3" fill="#ea5c16" opacity="0.8"/>
<ellipse cx="397.2" cy="120.6" rx="4.3" ry="1.6" fill="#fcac1c" opacity="0.8"/>
<ellipse cx="362.7" cy="95.4" rx="2.1" ry="0.7" fill="#ea5c16" opacity="0.8"/>
<ellipse cx="403.9" cy="54.0" rx="2.5" ry="1.0" fill="#fcac1c" opacity="0.8"/>
<ellipse cx="388.4" cy="114.9" rx="4.1" ry="1.1" fill="#fcac1c" opacity="0.8"/>
<ellipse cx="419.3" cy="41.2" rx="4.8" ry="1.4" fill="#ea5c16" opacity="0.8"/>
<ellipse cx="383.1" cy="116.5" rx="4.7" ry="1.0" fill="#fcac1c" opacity="0.8"/>
<ellipse cx="417.1" cy="140.4" rx="4.8" ry="1.1" fill="#fcac1c" opacity="0.8"/>
<ellipse cx="363.2" cy="129.9" rx="4.4" ry="1.3" fill="#fcac1c" opacity="0.8"/>
<ellipse cx="363.9" cy="154.8" rx="4.9" ry="1.6" fill="#fcac1c" opacity="0.8"/>
<ellipse cx="410.1" cy="73.8" rx="4.7" ry="1.5" fill="#ea5c16" opacity="0.8"/>
<ellipse cx="353.4" cy="90.6" rx="3.4" ry="1.4" fill="#ea5c16" opacity="0.8"/>
<ellipse cx="349.1" cy="142.1" rx="1.7" ry="1.4" fill="#ea5c16" opacity="0.8"/>
<ellipse cx="373.6" cy="139.1" rx="2.0" ry="0.8" fill="#fcac1c" opacity="0.8"/>
<ellipse cx="404.7" cy="146.4" rx="3.9" ry="1.6" fill="#ea5c16" opacity="0.8"/>
<ellipse cx="422.7" cy="41.0" rx="2.3" ry="1.2" fill="#ea5c16" opacity="0.8"/>
<ellipse cx="405.1" cy="118.3" rx="3.3" ry="1.5" fill="#fcac1c" opacity="0.8"/>
<ellipse cx="371.7" cy="82.3" rx="4.5" ry="1.5" fill="#ea5c16" opacity="0.8"/>
<ellipse cx="414.9" cy="164.4" rx="3.3" ry="1.2" fill="#ea5c16" opacity="0.8"/>
<ellipse cx="389.7" cy="99.3" rx="3.6" ry="0.7" fill="#f4801a" opacity="0.8"/>
<ellipse cx="388.1" cy="85.0" rx="4.3" ry="1.2" fill="#ea5c16" opacity="0.8"/>
<ellipse cx="402.1" cy="38.2" rx="3.4" ry="1.1" fill="#f4801a" opacity="0.8"/>
<ellipse cx="420.7" cy="66.6" rx="3.2" ry="0.8" fill="#ea5c16" opacity="0.8"/>
<ellipse cx="412.1" cy="154.9" rx="3.2" ry="1.0" fill="#ea5c16" opacity="0.8"/>
<ellipse cx="396.2" cy="158.4" rx="2.0" ry="1.4" fill="#ea5c16" opacity="0.8"/>
<ellipse cx="362.3" cy="60.8" rx="3.9" ry="1.0" fill="#ea5c16" opacity="0.8"/>
<ellipse cx="396.4" cy="43.7" rx="4.1" ry="0.8" fill="#fcac1c" opacity="0.8"/>
<ellipse cx="366.8" cy="56.6" rx="3.4" ry="1.1" fill="#ea5c16" opacity="0.8"/>
<ellipse cx="379.9" cy="103.0" rx="2.1" ry="0.9" fill="#fcac1c" opacity="0.8"/>
<ellipse cx="397.9" cy="103.0" rx="4.5" ry="1.3" fill="#f4801a" opacity="0.8"/>
<ellipse cx="365.4" cy="132.6" rx="4.3" ry="1.5" fill="#ea5c16" opacity="0.8"/>
<ellipse cx="372.0" cy="158.0" rx="2.3" ry="1.6" fill="#f4801a" opacity="0.8"/>
<ellipse cx="357.5" cy="62.5" rx="4.0" ry="0.9" fill="#ea5c16" opacity="0.8"/>
<ellipse cx="413.4" cy="87.9" rx="4.3" ry="0.8" fill="#ea5c16" opacity="0.8"/>
<ellipse cx="401.6" cy="31.5" rx="2.2" ry="1.3" fill="#f4801a" opacity="0.8"/>
<ellipse cx="424.3" cy="45.1" rx="3.3" ry="1.4" fill="#fcac1c" opacity="0.8"/>
<ellipse cx="401.7" cy="55.4" rx="1.7" ry="0.8" fill="#ea5c16" opacity="0.8"/>
<ellipse cx="390.9" cy="101.0" rx="3.5" ry="0.8" fill="#ea5c16" opacity="0.8"/>
<ellipse cx="363.1" cy="146.5" rx="5.0" ry="1.5" fill="#ea5c16" opacity="0.8"/>
<ellipse cx="351.8" cy="162.0" rx="3.1" ry="1.4" fill="#ea5c16" opacity="0.8"/>
<ellipse cx="384.2" cy="101.0" rx="3.0" ry="1.2" fill="#ea5c16" opacity="0.8"/>
<ellipse cx="402.9" cy="147.0" rx="2.1" ry="1.1" fill="#fcac1c" opacity="0.8"/>
<ellipse cx="379.2" cy="56.3" rx="2.1" ry="1.2" fill="#ea5c16" opacity="0.8"/>
<ellipse cx="418.3" cy="141.1" rx="4.0" ry="1.5" fill="#fcac1c" opacity="0.8"/>
<ellipse cx="379.2" cy="112.8" rx="3.3" ry="1.6" fill="#f4801a" opacity="0.8"/>
<ellipse cx="367.5" cy="156.4" rx="4.1" ry="1.4" fill="#f4801a" opacity="0.8"/>
<ellipse cx="379.3" cy="154.3" rx="4.6" ry="1.3" fill="#fcac1c" opacity="0.8"/>
<ellipse cx="408.0" cy="85.7" rx="4.0" ry="0.8" fill="#ea5c16" opacity="0.8"/>
<ellipse cx="384.3" cy="30.5" rx="2.7" ry="1.3" fill="#fcac1c" opacity="0.8"/>
<ellipse cx="365.4" cy="161.1" rx="3.8" ry="1.0" fill="#fcac1c" opacity="0.8"/>
<ellipse cx="392.4" cy="103.5" rx="2.9" ry="1.6" fill="#fcac1c" opacity="0.8"/>
<ellipse cx="402.9" cy="135.5" rx="4.9" ry="0.7" fill="#fcac1c" opacity="0.8"/>
<ellipse cx="405.9" cy="64.9" rx="2.9" ry="0.7" fill="#ea5c16" opacity="0.8"/>
<ellipse cx="376.9" cy="42.8" rx="2.4" ry="1.5" fill="#fcac1c" opacity="0.8"/>
<ellipse cx="387.4" cy="164.2" rx="3.5" ry="1.6" fill="#fcac1c" opacity="0.8"/>
<ellipse cx="411.6" cy="39.7" rx="3.6" ry="1.4" fill="#ea5c16" opacity="0.8"/>
<ellipse cx="421.2" cy="51.4" rx="3.2" ry="0.9" fill="#ea5c16" opacity="0.8"/>
<ellipse cx="395.7" cy="37.2" rx="4.8" ry="1.1" fill="#fcac1c" opacity="0.8"/>
<ellipse cx="394.6" cy="80.1" rx="2.5" ry="1.3" fill="#fcac1c" opacity="0.8"/>
<ellipse cx="369.5" cy="129.2" rx="2.5" ry="0.7" fill="#ea5c16" opacity="0.8"/>
<ellipse cx="350.2" cy="50.9" rx="4.1" ry="1.1" fill="#f4801a" opacity="0.8"/>
<ellipse cx="406.7" cy="36.0" rx="5.0" ry="1.6" fill="#ea5c16" opacity="0.8"/>
<ellipse cx="419.2" cy="89.0" rx="3.2" ry="1.6" fill="#ea5c16" opacity="0.8"/>
<ellipse cx="388.7" cy="160.0" rx="4.0" ry="1.1" fill="#f4801a" opacity="0.8"/>
<ellipse cx="412.1" cy="113.4" rx="1.9" ry="1.3" fill="#ea5c16" opacity="0.8"/>
<ellipse cx="363.1" cy="36.3" rx="3.3" ry="0.8" fill="#ea5c16" opacity="0.8"/>
<ellipse cx="400.2" cy="92.7" rx="2.4" ry="1.2" fill="#ea5c16" opacity="0.8"/>
<ellipse cx="409.0" cy="103.2" rx="5.0" ry="1.6" fill="#fcac1c" opacity="0.8"/>
<ellipse cx="365.9" cy="44.9" rx="4.6" ry="1.4" fill="#fcac1c" opacity="0.8"/>
<ellipse cx="375.5" cy="67.0" rx="3.9" ry="1.2" fill="#fcac1c" opacity="0.8"/>
<ellipse cx="397.4" cy="134.3" rx="2.2" ry="0.9" fill="#f4801a" opacity="0.8"/>
<ellipse cx="420.1" cy="151.9" rx="1.6" ry="0.8" fill="#ea5c16" opacity="0.8"/>
<ellipse cx="380.8" cy="116.1" rx="1.9" ry="1.2" fill="#ea5c16" opacity="0.8"/>
<ellipse cx="353.7" cy="123.5" rx="3.4" ry="1.3" fill="#ea5c16" opacity="0.8"/>
<ellipse cx="385.1" cy="58.4" rx="2.7" ry="1.4" fill="#f4801a" opacity="0.8"/>
<ellipse cx="352.7" cy="45.7" rx="4.3" ry="1.3" fill="#fcac1c" opacity="0.8"/>
<ellipse cx="363.9" cy="88.3" rx="2.4" ry="1.4" fill="#ea5c16" opacity="0.8"/>
<ellipse cx="399.1" cy="167.3" rx="2.6" ry="1.2" fill="#fcac1c" opacity="0.8"/>
<ellipse cx="420.5" cy="88.8" rx="2.8" ry="0.8" fill="#f4801a" opacity="0.8"/>
<ellipse cx="353.1" cy="40.6" rx="3.5" ry="1.1" fill="#fcac1c" opacity="0.8"/>
<ellipse cx="370.7" cy="137.4" rx="1.8" ry="0.9" fill="#fcac1c" opacity="0.8"/>
<ellipse cx="353.3" cy="71.5" rx="4.0" ry="1.3" fill="#ea5c16" opacity="0.8"/>
<ellipse cx="358.2" cy="79.0" rx="4.0" ry="1.0" fill="#ea5c16" opacity="0.8"/>
<ellipse cx="403.5" cy="108.6" rx="4.7" ry="1.5" fill="#f4801a" opacity="0.8"/>
<ellipse cx="381.8" cy="141.3" rx="2.6" ry="1.0" fill="#ea5c16" opacity="0.8"/>
<ellipse cx="421.6" cy="154.1" rx="2.4" ry="1.0" fill="#ea5c16" opacity="0.8"/>
<ellipse cx="375.9" cy="84.3" rx="2.9" ry="0.9" fill="#fcac1c" opacity="0.8"/>
<ellipse cx="410.6" cy="104.6" rx="4.4" ry="1.2" fill="#ea5c16" opacity="0.8"/>
<ellipse cx="407.5" cy="152.1" rx="2.5" ry="0.7" fill="#fcac1c" opacity="0.8"/>
<ellipse cx="390.3" cy="108.3" rx="4.9" ry="1.3" fill="#f4801a" opacity="0.8"/>
<ellipse cx="351.9" cy="105.4" rx="4.3" ry="0.8" fill="#ea5c16" opacity="0.8"/>
<ellipse cx="405.8" cy="154.7" rx="1.8" ry="1.3" fill="#ea5c16" opacity="0.8"/>
<ellipse cx="406.5" cy="119.7" rx="2.4" ry="0.9" fill="#fcac1c" opacity="0.8"/>
<ellipse cx="388.5" cy="135.9" rx="2.9" ry="1.0" fill="#f4801a" opacity="0.8"/>
<ellipse cx="400.6" cy="98.0" rx="3.4" ry="1.3" fill="#fcac1c" opacity="0.8"/>
<ellipse cx="420.0" cy="86.4" rx="4.4" ry="1.3" fill="#f4801a" opacity="0.8"/>
<ellipse cx="411.3" cy="145.6" rx="4.6" ry="1.6" fill="#fcac1c" opacity="0.8"/>
<ellipse cx="388.7" cy="128.3" rx="4.3" ry="1.1" fill="#ea5c16" opacity="0.8"/>
<ellipse cx="358.5" cy="132.6" rx="5.0" ry="1.0" fill="#ea5c16" opacity="0.8"/>
<ellipse cx="363.1" cy="88.4" rx="2.5" ry="1.6" fill="#ea5c16" opacity="0.8"/>
<ellipse cx="371.5" cy="45.1" rx="3.8" ry="1.4" fill="#ea5c16" opacity="0.8"/>
<ellipse cx="351.8" cy="93.1" rx="3.5" ry="1.5" fill="#ea5c16" opacity="0.8"/>
<ellipse cx="355.5" cy="54.8" rx="2.3" ry="0.9" fill="#fcac1c" opacity="0.8"/>
<ellipse cx="394.4" cy="60.3" rx="2.1" ry="1.0" fill="#ea5c16" opacity="0.8"/>
<ellipse cx="407.4" cy="72.6" rx="3.4" ry="1.4" fill="#ea5c16" opacity="0.8"/>
<ellipse cx="367.6" cy="153.1" rx="4.7" ry="1.0" fill="#fcac1c" opacity="0.8"/>
<ellipse cx="423.4" cy="96.5" rx="2.3" ry="0.7" fill="#f4801a" opacity="0.8"/>
<ellipse cx="410.9" cy="82.8" rx="3.3" ry="1.2" fill="#ea5c16" opacity="0.8"/>
<ellipse cx="426.0" cy="120.9" rx="2.3" ry="0.7" fill="#ea5c16" opacity="0.8"/>
<ellipse cx="376.5" cy="140.4" rx="4.0" ry="1.2" fill="#ea5c16" opacity="0.8"/>
<ellipse cx="359.4" cy="74.0" rx="2.4" ry="1.5" fill="#fcac1c" opacity="0.8"/>
<ellipse cx="397.8" cy="167.8" rx="2.4" ry="1.2" fill="#ea5c16" opacity="0.8"/>
<ellipse cx="408.4" cy="29.2" rx="4.4" ry="1.5" fill="#f4801a" opacity="0.8"/>
<ellipse cx="353.4" cy="66.7" rx="4.0" ry="0.8" fill="#ea5c16" opacity="0.8"/>
<ellipse cx="384.3" cy="162.6" rx="3.6" ry="1.5" fill="#ea5c16" opacity="0.8"/>
<ellipse cx="409.9" cy="87.3" rx="4.7" ry="0.8" fill="#f4801a" opacity="0.8"/>
<ellipse cx="363.5" cy="105.0" rx="3.3" ry="0.8" fill="#f4801a" opacity="0.8"/>
<ellipse cx="371.7" cy="72.4" rx="1.8" ry="1.0" fill="#ea5c16" opacity="0.8"/>
<ellipse cx="404.0" cy="79.3" rx="3.9" ry="0.8" fill="#ea5c16" opacity="0.8"/>
<ellipse cx="383.7" cy="164.2" rx="4.4" ry="1.3" fill="#ea5c16" opacity="0.8"/>
<ellipse cx="377.0" cy="128.3" rx="2.3" ry="1.2" fill="#ea5c16" opacity="0.8"/>
<ellipse cx="347.6" cy="167.6" rx="4.3" ry="0.9" fill="#fcac1c" opacity="0.8"/>
<ellipse cx="370.0" cy="81.6" rx="3.4" ry="1.0" fill="#ea5c16" opacity="0.8"/>
<ellipse cx="378.2" cy="122.2" rx="2.4" ry="0.9" fill="#fcac1c" opacity="0.8"/>
<ellipse cx="373.2" cy="161.1" rx="3.5" ry="1.4" fill="#ea5c16" opacity="0.8"/>
<ellipse cx="413.0" cy="41.9" rx="2.0" ry="0.8" fill="#fcac1c" opacity="0.8"/>
<ellipse cx="403.5" cy="54.1" rx="2.9" ry="1.5" fill="#fcac1c" opacity="0.8"/>
<ellipse cx="354.0" cy="60.7" rx="2.0" ry="0.8" fill="#ea5c16" opacity="0.8"/>
<ellipse cx="352.6" cy="157.7" rx="3.0" ry="1.2" fill="#fcac1c" opacity="0.8"/>
<ellipse cx="408.1" cy="143.8" rx="2.9" ry="1.0" fill="#ea5c16" opacity="0.8"/>
<ellipse cx="348.0" cy="85.0" rx="3.9" ry="1.6" fill="#fcac1c" opacity="0.8"/>
<ellipse cx="399.6" cy="114.1" rx="1.6" ry="1.0" fill="#ea5c16" opacity="0.8"/>
<ellipse cx="398.9" cy="43.9" rx="2.8" ry="1.2" fill="#fcac1c" opacity="0.8"/>
<ellipse cx="412.8" cy="114.5" rx="2.1" ry="1.4" fill="#f4801a" opacity="0.8"/>
<ellipse cx="390.7" cy="78.3" rx="3.3" ry="0.8" fill="#fcac1c" opacity="0.8"/>
<ellipse cx="425.7" cy="101.1" rx="4.0" ry="1.5" fill="#ea5c16" opacity="0.8"/>
<ellipse cx="422.4" cy="116.7" rx="2.2" ry="0.8" fill="#ea5c16" opacity="0.8"/>
<ellipse cx="392.9" cy="126.5" rx="2.7" ry="1.5" fill="#ea5c16" opacity="0.8"/>
<ellipse cx="383.8" cy="46.3" rx="4.9" ry="0.8" fill="#f4801a" opacity="0.8"/>
<ellipse cx="390.3" cy="107.4" rx="3.5" ry="0.9" fill="#f4801a" opacity="0.8"/>
<ellipse cx="426.2" cy="143.3" rx="3.6" ry="0.8" fill="#f4801a" opacity="0.8"/>
<ellipse cx="369.9" cy="154.4" rx="2.3" ry="1.2" fill="#f4801a" opacity="0.8"/>
<ellipse cx="361.6" cy="105.6" rx="1.8" ry="0.7" fill="#ea5c16" opacity="0.8"/>
<ellipse cx="425.8" cy="160.3" rx="3.8" ry="1.0" fill="#fcac1c" opacity="0.8"/>
<ellipse cx="405.8" cy="82.4" rx="3.6" ry="1.4" fill="#ea5c16" opacity="0.8"/>
<ellipse cx="362.8" cy="94.4" rx="2.0" ry="1.0" fill="#fcac1c" opacity="0.8"/>
<ellipse cx="360.7" cy="101.7" rx="2.4" ry="1.2" fill="#ea5c16" opacity="0.8"/>
<ellipse cx="398.1" cy="34.3" rx="3.8" ry="0.8" fill="#f4801a" opacity="0.8"/>
<ellipse cx="394.8" cy="94.7" rx="2.9" ry="1.3" fill="#fcac1c" opacity="0.8"/>
<ellipse cx="407.4" cy="134.1" rx="3.2" ry="1.6" fill="#f4801a" opacity="0.8"/>
<ellipse cx="415.2" cy="86.2" rx="3.0" ry="1.2" fill="#f4801a" opacity="0.8"/>
<ellipse cx="388.9" cy="102.4" rx="3.0" ry="1.5" fill="#ea5c16" opacity="0.8"/>
<ellipse cx="351.2" cy="130.4" rx="4.7" ry="1.4" fill="#fcac1c" opacity="0.8"/>
<ellipse cx="407.0" cy="71.6" rx="3.6" ry="0.8" fill="#ea5c16" opacity="0.8"/>
<ellipse cx="382.6" cy="99.3" rx="2.9" ry="0.7" fill="#fcac1c" opacity="0.8"/>
<ellipse cx="388.9" cy="62.4" rx="2.6" ry="1.1" fill="#ea5c16" opacity="0.8"/>
<ellipse cx="352.3" cy="156.4" rx="4.9" ry="1.3" fill="#f4801a" opacity="0.8"/>
<ellipse cx="380.5" cy="141.6" rx="2.3" ry="1.4" fill="#fcac1c" opacity="0.8"/>
<ellipse cx="419.1" cy="42.8" rx="4.3" ry="0.8" fill="#fcac1c" opacity="0.8"/>
<ellipse cx="422.9" cy="29.1" rx="2.4" ry="1.0" fill="#ea5c16" opacity="0.8"/>
<ellipse cx="351.8" cy="154.1" rx="4.4" ry="1.1" fill="#ea5c16" opacity="0.8"/>
<ellipse cx="393.6" cy="35.4" rx="1.6" ry="1.5" fill="#ea5c16" opacity="0.8"/>
<ellipse cx="386.7" cy="159.6" rx="4.9" ry="1.1" fill="#ea5c16" opacity="0.8"/>
<ellipse cx="370.4" cy="158.0" rx="4.6" ry="0.9" fill="#f4801a" opacity="0.8"/>
<ellipse cx="375.1" cy="95.1" rx="2.1" ry="1.5" fill="#f4801a" opacity="0.8"/>
<ellipse cx="363.0" cy="117.4" rx="2.2" ry="1.5" fill="#ea5c16" opacity="0.8"/>
<ellipse cx="355.3" cy="130.5" rx="2.6" ry="1.5" fill="#f4801a" opacity="0.8"/>
<ellipse cx="403.9" cy="47.9" rx="3.9" ry="1.5" fill="#ea5c16" opacity="0.8"/>
<ellipse cx="353.1" cy="60.2" rx="2.6" ry="1.3" fill="#ea5c16" opacity="0.8"/>
<ellipse cx="361.3" cy="61.9" rx="3.8" ry="1.4" fill="#ea5c16" opacity="0.8"/>
<ellipse cx="399.8" cy="152.6" rx="3.6" ry="0.9" fill="#ea5c16" opacity="0.8"/>
<ellipse cx="420.9" cy="122.3" rx="2.5" ry="1.3" fill="#ea5c16" opacity="0.8"/>
<ellipse cx="425.4" cy="90.6" rx="3.3" ry="1.2" fill="#ea5c16" opacity="0.8"/>
<ellipse cx="394.8" cy="68.8" rx="2.4" ry="1.4" fill="#ea5c16" opacity="0.8"/>
<ellipse cx="369.6" cy="134.6" rx="2.4" ry="1.0" fill="#fcac1c" opacity="0.8"/>
<ellipse cx="361.7" cy="154.4" rx="5.0" ry="0.7" fill="#ea5c16" opacity="0.8"/>
<ellipse cx="406.8" cy="82.8" rx="4.8" ry="1.1" fill="#ea5c16" opacity="0.8"/>
<ellipse cx="391.3" cy="119.2" rx="2.8" ry="1.3" fill="#fcac1c" opacity="0.8"/>
<ellipse cx="388.1" cy="99.7" rx="4.5" ry="1.3" fill="#fcac1c" opacity="0.8"/>
<ellipse cx="422.9" cy="53.3" rx="4.2" ry="0.8" fill="#fcac1c" opacity="0.8"/>
<ellipse cx="365.6" cy="90.6" rx="4.2" ry="1.4" fill="#fcac1c" opacity="0.8"/>
<ellipse cx="365.7" cy="97.4" rx="2.3" ry="1.2" fill="#ea5c16" opacity="0.8"/>
<ellipse cx="349.6" cy="112.4" rx="4.0" ry="1.2" fill="#f4801a" opacity="0.8"/>
<ellipse cx="361.2" cy="50.2" rx="1.6" ry="1.1" fill="#ea5c16" opacity="0.8"/>
<ellipse cx="382.1" cy="65.8" rx="4.3" ry="0.8" fill="#f4801a" opacity="0.8"/>
<ellipse cx="392.3" cy="104.9" rx="4.3" ry="0.9" fill="#ea5c16" opacity="0.8"/>
<ellipse cx="371.7" cy="34.9" rx="2.6" ry="1.3" fill="#fcac1c" opacity="0.8"/>
<ellipse cx="368.0" cy="111.3" rx="1.8" ry="1.4" fill="#ea5c16" opacity="0.8"/>
<ellipse cx="367.2" cy="51.3" rx="3.9" ry="1.4" fill="#fcac1c" opacity="0.8"/>
<ellipse cx="351.7" cy="86.4" rx="2.8" ry="0.9" fill="#f4801a" opacity="0.8"/>
<ellipse cx="350.2" cy="97.4" rx="4.2" ry="1.6" fill="#ea5c16" opacity="0.8"/>
<ellipse cx="383.2" cy="133.1" rx="1.6" ry="0.9" fill="#f4801a" opacity="0.8"/>
<ellipse cx="358.1" cy="83.9" rx="2.5" ry="1.1" fill="#ea5c16" opacity="0.8"/>
<ellipse cx="349.5" cy="168.3" rx="4.2" ry="1.4" fill="#ea5c16" opacity="0.8"/>
<ellipse cx="367.1" cy="106.2" rx="2.3" ry="1.1" fill="#f4801a" opacity="0.8"/>
<ellipse cx="375.9" cy="76.1" rx="4.9" ry="1.2" fill="#ea5c16" opacity="0.8"/>
<ellipse cx="379.0" cy="119.8" rx="1.7" ry="1.0" fill="#fcac1c" opacity="0.8"/>
<ellipse cx="416.0" cy="111.6" rx="4.6" ry="1.1" fill="#ea5c16" opacity="0.8"/>
<ellipse cx="414.2" cy="82.3" rx="4.2" ry="0.9" fill="#ea5c16" opacity="0.8"/>
<ellipse cx="361.5" cy="105.8" rx="2.1" ry="0.9" fill="#ea5c16" opacity="0.8"/>
<ellipse cx="384.2" cy="72.1" rx="3.1" ry="1.6" fill="#fcac1c" opacity="0.8"/>
<ellipse cx="415.8" cy="57.6" rx="2.8" ry="0.8" fill="#fcac1c" opacity="0.8"/>
<ellipse cx="375.8" cy="67.4" rx="1.6" ry="0.9" fill="#ea5c16" opacity="0.8"/>
<ellipse cx="378.2" cy="158.1" rx="4.0" ry="0.9" fill="#ea5c16" opacity="0.8"/>
<ellipse cx="359.1" cy="159.9" rx="2.8" ry="1.4" fill="#fcac1c" opacity="0.8"/>
<ellipse cx="419.4" cy="31.9" rx="2.6" ry="1.0" fill="#ea5c16" opacity="0.8"/>
<ellipse cx="417.4" cy="74.5" rx="4.2" ry="1.2" fill="#ea5c16" opacity="0.8"/>
<ellipse cx="378.3" cy="62.3" rx="1.6" ry="0.8" fill="#fcac1c" opacity="0.8"/>
<ellipse cx="349.3" cy="72.7" rx="3.0" ry="1.2" fill="#ea5c16" opacity="0.8"/>
<ellipse cx="403.3" cy="65.4" rx="4.0" ry="1.3" fill="#ea5c16" opacity="0.8"/>
<ellipse cx="363.2" cy="68.2" rx="4.0" ry="1.1" fill="#ea5c16" opacity="0.8"/>
<ellipse cx="416.1" cy="60.6" rx="2.5" ry="1.0" fill="#ea5c16" opacity="0.8"/>
<ellipse cx="350.1" cy="32.4" rx="3.7" ry="1.2" fill="#f4801a" opacity="0.8"/>
<ellipse cx="424.8" cy="70.7" rx="3.8" ry="1.5" fill="#ea5c16" opacity="0.8"/>
<ellipse cx="401.9" cy="122.2" rx="4.8" ry="1.5" fill="#ea5c16" opacity="0.8"/>
<ellipse cx="397.4" cy="41.6" rx="3.0" ry="1.1" fill="#ea5c16" opacity="0.8"/>
<ellipse cx="377.5" cy="74.9" rx="3.2" ry="1.0" fill="#ea5c16" opacity="0.8"/>
<ellipse cx="379.0" cy="95.4" rx="2.1" ry="1.3" fill="#ea5c16" opacity="0.8"/>
<ellipse cx="354.2" cy="76.8" rx="3.0" ry="0.8" fill="#fcac1c" opacity="0.8"/>
<ellipse cx="402.9" cy="106.3" rx="4.0" ry="0.7" fill="#ea5c16" opacity="0.8"/>
<ellipse cx="375.9" cy="37.8" rx="2.9" ry="0.7" fill="#ea5c16" opacity="0.8"/>
<ellipse cx="393.7" cy="94.6" rx="2.6" ry="0.9" fill="#ea5c16" opacity="0.8"/>
<ellipse cx="374.6" cy="153.7" rx="3.5" ry="0.9" fill="#fcac1c" opacity="0.8"/>
<ellipse cx="361.7" cy="94.6" rx="3.7" ry="1.6" fill="#ea5c16" opacity="0.8"/>
<ellipse cx="392.9" cy="160.7" rx="4.2" ry="1.3" fill="#fcac1c" opacity="0.8"/>
<ellipse cx="379.7" cy="87.1" rx="2.5" ry="1.4" fill="#f4801a" opacity="0.8"/>
<ellipse cx="377.4" cy="156.2" rx="1.6" ry="0.8" fill="#fcac1c" opacity="0.8"/>
<ellipse cx="371.5" cy="79.4" rx="4.9" ry="0.8" fill="#ea5c16" opacity="0.8"/>
<ellipse cx="365.1" cy="124.1" rx="2.3" ry="0.7" fill="#fcac1c" opacity="0.8"/>
<ellipse cx="378.3" cy="62.5" rx="3.2" ry="1.3" fill="#fcac1c" opacity="0.8"/>
<ellipse cx="396.8" cy="107.4" rx="4.4" ry="1.6" fill="#ea5c16" opacity="0.8"/>
<ellipse cx="374.5" cy="152.9" rx="2.6" ry="1.3" fill="#fcac1c" opacity="0.8"/>
<ellipse cx="401.7" cy="163.8" rx="4.4" ry="0.8" fill="#fcac1c" opacity="0.8"/>
<ellipse cx="386.1" cy="107.8" rx="2.8" ry="1.0" fill="#fcac1c" opacity="0.8"/>
<ellipse cx="389.5" cy="62.1" rx="2.4" ry="1.0" fill="#ea5c16" opacity="0.8"/>
<ellipse cx="387.9" cy="46.6" rx="1.7" ry="0.8" fill="#ea5c16" opacity="0.8"/>
<ellipse cx="403.2" cy="44.8" rx="3.1" ry="1.4" fill="#ea5c16" opacity="0.8"/>
<ellipse cx="359.8" cy="150.1" rx="4.5" ry="0.7" fill="#ea5c16" opacity="0.8"/>
<ellipse cx="387.4" cy="140.3" rx="2.9" ry="1.3" fill="#ea5c16" opacity="0.8"/>
<ellipse cx="404.1" cy="74.7" rx="2.7" ry="1.4" fill="#f4801a" opacity="0.8"/>
<ellipse cx="413.1" cy="108.3" rx="3.0" ry="1.3" fill="#fcac1c" opacity="0.8"/>
<ellipse cx="413.3" cy="141.0" rx="1.9" ry="1.0" fill="#fcac1c" opacity="0.8"/>
<ellipse cx="365.3" cy="54.8" rx="1.5" ry="1.2" fill="#f4801a" opacity="0.8"/>
<ellipse cx="424.4" cy="47.7" rx="3.9" ry="1.1" fill="#fcac1c" opacity="0.8"/>
<ellipse cx="378.5" cy="159.5" rx="5.0" ry="0.7" fill="#fcac1c" opacity="0.8"/>
<ellipse cx="356.3" cy="34.9" rx="2.5" ry="1.4" fill="#f4801a" opacity="0.8"/>
<ellipse cx="356.4" cy="75.1" rx="1.6" ry="1.2" fill="#ea5c16" opacity="0.8"/>
<ellipse cx="376.7" cy="72.2" rx="4.3" ry="1.5" fill="#ea5c16" opacity="0.8"/>
<ellipse cx="378.1" cy="115.4" rx="4.2" ry="1.6" fill="#ea5c16" opacity="0.8"/>
<ellipse cx="402.3" cy="105.3" rx="4.3" ry="0.8" fill="#ea5c16" opacity="0.8"/>
<ellipse cx="355.4" cy="159.5" rx="2.4" ry="1.1" fill="#ea5c16" opacity="0.8"/>
<ellipse cx="372.7" cy="31.7" rx="3.5" ry="0.8" fill="#fcac1c" opacity="0.8"/>
<ellipse cx="368.7" cy="60.8" rx="3.2" ry="1.0" fill="#ea5c16" opacity="0.8"/>
<ellipse cx="350.9" cy="38.0" rx="4.6" ry="1.0" fill="#ea5c16" opacity="0.8"/>
<ellipse cx="361.4" cy="96.6" rx="5.0" ry="0.9" fill="#f4801a" opacity="0.8"/>
<ellipse cx="385.5" cy="87.0" rx="4.3" ry="1.1" fill="#ea5c16" opacity="0.8"/>
<ellipse cx="390.8" cy="120.8" rx="3.7" ry="0.9" fill="#f4801a" opacity="0.8"/>
<ellipse cx="416.0" cy="168.0" rx="3.1" ry="1.5" fill="#fcac1c" opacity="0.8"/>
<ellipse cx="360.9" cy="32.7" rx="2.1" ry="0.8" fill="#ea5c16" opacity="0.8"/>
<ellipse cx="375.5" cy="134.3" rx="2.6" ry="1.2" fill="#ea5c16" opacity="0.8"/>
<ellipse cx="363.6" cy="163.1" rx="1.5" ry="1.2" fill="#f4801a" opacity="0.8"/>
<ellipse cx="410.2" cy="131.8" rx="2.9" ry="1.4" fill="#f4801a" opacity="0.8"/>
<ellipse cx="408.2" cy="166.8" rx="1.9" ry="1.6" fill="#ea5c16" opacity="0.8"/>
<ellipse cx="403.2" cy="64.0" rx="4.7" ry="0.7" fill="#fcac1c" opacity="0.8"/>
<ellipse cx="365.0" cy="83.3" rx="2.8" ry="1.3" fill="#f4801a" opacity="0.8"/>
<ellipse cx="376.0" cy="118.2" rx="2.7" ry="1.0" fill="#f4801a" opacity="0.8"/>
<ellipse cx="372.5" cy="42.2" rx="2.7" ry="1.4" fill="#ea5c16" opacity="0.8"/>
<ellipse cx="406.3" cy="105.4" rx="3.9" ry="0.9" fill="#ea5c16" opacity="0.8"/>
<ellipse cx="358.2" cy="78.0" rx="3.0" ry="0.7" fill="#fcac1c" opacity="0.8"/>
<ellipse cx="379.1" cy="73.9" rx="3.4" ry="1.6" fill="#ea5c16" opacity="0.8"/>
<ellipse cx="417.2" cy="73.9" rx="4.1" ry="0.8" fill="#f4801a" opacity="0.8"/>
<ellipse cx="381.2" cy="163.6" rx="2.3" ry="1.1" fill="#fcac1c" opacity="0.8"/>
<ellipse cx="361.0" cy="67.2" rx="3.9" ry="1.6" fill="#ea5c16" opacity="0.8"/>
<ellipse cx="361.5" cy="78.9" rx="5.0" ry="0.8" fill="#fcac1c" opacity="0.8"/>
<ellipse cx="377.0" cy="119.0" rx="2.2" ry="1.3" fill="#f4801a" opacity="0.8"/>
<ellipse cx="415.3" cy="116.9" rx="3.3" ry="1.2" fill="#ea5c16" opacity="0.8"/>
<ellipse cx="413.8" cy="125.4" rx="3.1" ry="1.3" fill="#ea5c16" opacity="0.8"/>
<ellipse cx="377.6" cy="61.2" rx="3.6" ry="1.2" fill="#fcac1c" opacity="0.8"/>
<ellipse cx="349.4" cy="116.7" rx="3.1" ry="1.2" fill="#fcac1c" opacity="0.8"/>
<ellipse cx="421.3" cy="50.2" rx="3.1" ry="1.6" fill="#fcac1c" opacity="0.8"/>
<ellipse cx="371.8" cy="132.0" rx="5.0" ry="1.1" fill="#f4801a" opacity="0.8"/>
<ellipse cx="356.9" cy="167.4" rx="3.2" ry="0.9" fill="#f4801a" opacity="0.8"/>
<ellipse cx="398.7" cy="160.1" rx="4.4" ry="1.4" fill="#fcac1c" opacity="0.8"/>
<ellipse cx="426.3" cy="38.1" rx="4.5" ry="1.3" fill="#ea5c16" opacity="0.8"/>
<ellipse cx="411.4" cy="92.5" rx="3.4" ry="1.5" fill="#ea5c16" opacity="0.8"/>
<ellipse cx="369.2" cy="119.0" rx="1.8" ry="1.2" fill="#fcac1c" opacity="0.8"/>
<ellipse cx="386.1" cy="62.8" rx="4.3" ry="1.5" fill="#fcac1c" opacity="0.8"/>
<ellipse cx="390.7" cy="155.6" rx="4.3" ry="0.8" fill="#ea5c16" opacity="0.8"/>
<ellipse cx="354.8" cy="34.1" rx="2.7" ry="1.5" fill="#f4801a" opacity="0.8"/>
<ellipse cx="356.2" cy="54.4" rx="2.9" ry="1.5" fill="#fcac1c" opacity="0.8"/>
<ellipse cx="418.9" cy="39.0" rx="5.0" ry="0.9" fill="#fcac1c" opacity="0.8"/>
<ellipse cx="416.9" cy="130.7" rx="2.2" ry="1.3" fill="#ea5c16" opacity="0.8"/>
<ellipse cx="348.0" cy="76.5" rx="2.6" ry="1.3" fill="#ea5c16" opacity="0.8"/>
<ellipse cx="395.0" cy="126.1" rx="2.1" ry="0.8" fill="#fcac1c" opacity="0.8"/>
<ellipse cx="384.1" cy="47.0" rx="1.9" ry="1.5" fill="#fcac1c" opacity="0.8"/>
<ellipse cx="375.4" cy="56.4" rx="5.0" ry="1.3" fill="#fcac1c" opacity="0.8"/>
<ellipse cx="375.6" cy="72.4" rx="2.9" ry="0.8" fill="#fcac1c" opacity="0.8"/>
<ellipse cx="380.8" cy="143.7" rx="2.9" ry="1.1" fill="#fcac1c" opacity="0.8"/>
<ellipse cx="422.1" cy="77.4" rx="4.0" ry="0.9" fill="#fcac1c" opacity="0.8"/>
<ellipse cx="369.6" cy="151.0" rx="2.5" ry="1.5" fill="#fcac1c" opacity="0.8"/>
<ellipse cx="383.2" cy="159.5" rx="2.9" ry="1.4" fill="#fcac1c" opacity="0.8"/>
<ellipse cx="382.7" cy="38.0" rx="3.0" ry="1.0" fill="#ea5c16" opacity="0.8"/>
<ellipse cx="423.2" cy="70.0" rx="3.9" ry="1.3" fill="#ea5c16" opacity="0.8"/>
<ellipse cx="379.7" cy="47.5" rx="4.6" ry="0.9" fill="#ea5c16" opacity="0.8"/>
<ellipse cx="374.1" cy="143.7" rx="4.5" ry="1.2" fill="#fcac1c" opacity="0.8"/>
<ellipse cx="354.8" cy="154.3" rx="1.8" ry="1.0" fill="#ea5c16" opacity="0.8"/>
<ellipse cx="404.6" cy="122.6" rx="2.7" ry="1.5" fill="#f4801a" opacity="0.8"/>
<ellipse cx="348.7" cy="117.5" rx="3.1" ry="1.0" fill="#ea5c16" opacity="0.8"/>
<ellipse cx="372.1" cy="122.8" rx="3.6" ry="1.6" fill="#f4801a" opacity="0.8"/>
<ellipse cx="426.2" cy="84.2" rx="4.4" ry="1.3" fill="#fcac1c" opacity="0.8"/>
<ellipse cx="426.6" cy="38.3" rx="3.1" ry="1.1" fill="#fcac1c" opacity="0.8"/>
<ellipse cx="364.2" cy="167.4" rx="2.2" ry="1.0" fill="#ea5c16" opacity="0.8"/>
<ellipse cx="378.4" cy="132.7" rx="1.8" ry="0.9" fill="#fcac1c" opacity="0.8"/>
<ellipse cx="396.6" cy="132.7" rx="2.4" ry="1.4" fill="#fcac1c" opacity="0.8"/>
<ellipse cx="408.9" cy="45.7" rx="3.1" ry="0.7" fill="#f4801a" opacity="0.8"/>
<ellipse cx="422.4" cy="154.2" rx="1.6" ry="1.0" fill="#fcac1c" opacity="0.8"/>
<ellipse cx="389.5" cy="44.5" rx="4.3" ry="1.0" fill="#fcac1c" opacity="0.8"/>
<ellipse cx="356.8" cy="108.4" rx="2.0" ry="0.8" fill="#fcac1c" opacity="0.8"/>
<ellipse cx="370.3" cy="137.7" rx="2.4" ry="1.1" fill="#ea5c16" opacity="0.8"/>
<ellipse cx="364.2" cy="92.1" rx="3.5" ry="1.1" fill="#f4801a" opacity="0.8"/>
<ellipse cx="355.1" cy="147.8" rx="2.0" ry="1.6" fill="#fcac1c" opacity="0.8"/>
<ellipse cx="379.3" cy="114.6" rx="4.5" ry="1.6" fill="#ea5c16" opacity="0.8"/>
<ellipse cx="347.7" cy="50.5" rx="4.4" ry="1.4" fill="#fcac1c" opacity="0.8"/>
<ellipse cx="359.3" cy="103.2" rx="1.6" ry="0.8" fill="#ea5c16" opacity="0.8"/>
<ellipse cx="424.1" cy="118.9" rx="4.5" ry="0.7" fill="#ea5c16" opacity="0.8"/>
<ellipse cx="353.1" cy="65.5" rx="1.9" ry="1.5" fill="#ea5c16" opacity="0.8"/>
<ellipse cx="385.9" cy="120.4" rx="4.6" ry="1.6" fill="#fcac1c" opacity="0.8"/>
<ellipse cx="386.9" cy="155.4" rx="2.9" ry="1.0" fill="#fcac1c" opacity="0.8"/>
<ellipse cx="367.5" cy="80.4" rx="3.0" ry="1.1" fill="#ea5c16" opacity="0.8"/>
<ellipse cx="381.2" cy="92.0" rx="1.7" ry="1.5" fill="#ea5c16" opacity="0.8"/>
<ellipse cx="389.0" cy="105.5" rx="2.9" ry="0.9" fill="#ea5c16" opacity="0.8"/>
<ellipse cx="376.6" cy="73.0" rx="3.2" ry="0.9" fill="#fcac1c" opacity="0.8"/>
<ellipse cx="385.8" cy="30.3" rx="2.9" ry="1.6" fill="#ea5c16" opacity="0.8"/>
<ellipse cx="394.3" cy="163.3" rx="2.8" ry="1.2" fill="#ea5c16" opacity="0.8"/>
<ellipse cx="370.9" cy="114.2" rx="3.6" ry="1.0" fill="#ea5c16" opacity="0.8"/>
<ellipse cx="388.1" cy="134.4" rx="1.7" ry="0.8" fill="#ea5c16" opacity="0.8"/>
<ellipse cx="368.4" cy="140.2" rx="3.0" ry="1.5" fill="#ea5c16" opacity="0.8"/>
<ellipse cx="369.7" cy="124.0" rx="1.8" ry="1.6" fill="#f4801a" opacity="0.8"/>
<ellipse cx="373.1" cy="73.4" rx="4.4" ry="1.4" fill="#fcac1c" opacity="0.8"/>
<ellipse cx="351.3" cy="135.7" rx="1.7" ry="1.3" fill="#fcac1c" opacity="0.8"/>
<ellipse cx="421.0" cy="118.3" rx="1.6" ry="1.5" fill="#fcac1c" opacity="0.8"/>
<ellipse cx="393.2" cy="29.8" rx="4.1" ry="1.1" fill="#fcac1c" opacity="0.8"/>
<ellipse cx="425.5" cy="157.2" rx="1.8" ry="1.4" fill="#ea5c16" opacity="0.8"/>
<ellipse cx="406.9" cy="81.8" rx="3.1" ry="1.1" fill="#ea5c16" opacity="0.8"/>
<ellipse cx="372.4" cy="131.7" rx="1.8" ry="0.8" fill="#f4801a" opacity="0.8"/>
<ellipse cx="400.1" cy="105.6" rx="1.9" ry="0.8" fill="#ea5c16" opacity="0.8"/>
<ellipse cx="423.1" cy="107.3" rx="4.7" ry="0.9" fill="#ea5c16" opacity="0.8"/>
<ellipse cx="389.7" cy="146.3" rx="1.9" ry="1.5" fill="#ea5c16" opacity="0.8"/>
<ellipse cx="349.3" cy="89.4" rx="2.8" ry="1.3" fill="#f4801a" opacity="0.8"/>
<ellipse cx="386.3" cy="125.4" rx="2.9" ry="1.4" fill="#ea5c16" opacity="0.8"/>
<ellipse cx="406.2" cy="52.3" rx="3.6" ry="0.9" fill="#ea5c16" opacity="0.8"/>
<ellipse cx="359.9" cy="77.9" rx="3.6" ry="1.2" fill="#ea5c16" opacity="0.8"/>
<ellipse cx="392.7" cy="146.8" rx="2.8" ry="1.2" fill="#ea5c16" opacity="0.8"/>
<ellipse cx="425.2" cy="74.9" rx="3.9" ry="0.9" fill="#ea5c16" opacity="0.8"/>
<ellipse cx="405.2" cy="109.4" rx="2.4" ry="0.8" fill="#f4801a" opacity="0.8"/>
<ellipse cx="377.0" cy="129.2" rx="3.0" ry="1.3" fill="#fcac1c" opacity="0.8"/>
<ellipse cx="424.9" cy="156.2" rx="3.1" ry="1.1" fill="#ea5c16" opacity="0.8"/>
<ellipse cx="407.1" cy="43.3" rx="2.6" ry="1.5" fill="#ea5c16" opacity="0.8"/>
<ellipse cx="402.7" cy="108.4" rx="3.4" ry="1.0" fill="#ea5c16" opacity="0.8"/>
<ellipse cx="422.9" cy="135.9" rx="4.3" ry="0.8" fill="#fcac1c" opacity="0.8"/>
<ellipse cx="364.3" cy="56.9" rx="3.4" ry="1.2" fill="#ea5c16" opacity="0.8"/>
<ellipse cx="408.0" cy="110.4" rx="4.6" ry="1.5" fill="#fcac1c" opacity="0.8"/>
<ellipse cx="375.9" cy="162.0" rx="4.0" ry="1.0" fill="#f4801a" opacity="0.8"/>
<ellipse cx="405.0" cy="66.0" rx="2.4" ry="0.7" fill="#fcac1c" opacity="0.8"/>
<ellipse cx="367.1" cy="70.0" rx="2.4" ry="0.8" fill="#ea5c16" opacity="0.8"/>
<ellipse cx="368.6" cy="68.8" rx="2.5" ry="1.2" fill="#f4801a" opacity="0.8"/>
<ellipse cx="359.6" cy="149.2" rx="4.5" ry="1.2" fill="#fcac1c" opacity="0.8"/>
<ellipse cx="405.5" cy="103.7" rx="3.8" ry="1.5" fill="#fcac1c" opacity="0.8"/>
<ellipse cx="367.6" cy="36.6" rx="4.8" ry="1.0" fill="#fcac1c" opacity="0.8"/>
<ellipse cx="365.5" cy="92.3" rx="2.8" ry="1.4" fill="#f4801a" opacity="0.8"/>
<ellipse cx="387.3" cy="108.1" rx="2.7" ry="0.9" fill="#f4801a" opacity="0.8"/>
<ellipse cx="355.6" cy="160.5" rx="3.8" ry="0.8" fill="#f4801a" opacity="0.8"/>
<ellipse cx="355.0" cy="108.0" rx="1.9" ry="1.6" fill="#ea5c16" opacity="0.8"/>
<ellipse cx="416.6" cy="37.6" rx="3.8" ry="0.8" fill="#ea5c16" opacity="0.8"/>
<ellipse cx="392.5" cy="166.4" rx="3.9" ry="1.5" fill="#fcac1c" opacity="0.8"/>
<ellipse cx="388.5" cy="39.8" rx="3.3" ry="0.9" fill="#fcac1c" opacity="0.8"/>
<ellipse cx="375.1" cy="98.8" rx="2.2" ry="1.3" fill="#ea5c16" opacity="0.8"/>
<ellipse cx="385.7" cy="40.0" rx="3.2" ry="1.2" fill="#f4801a" opacity="0.8"/>
<ellipse cx="391.7" cy="47.9" rx="2.6" ry="1.0" fill="#fcac1c" opacity="0.8"/>
<ellipse cx="421.9" cy="165.4" rx="4.8" ry="1.5" fill="#f4801a" opacity="0.8"/>
<ellipse cx="421.6" cy="31.8" rx="3.2" ry="1.2" fill="#fcac1c" opacity="0.8"/>
<ellipse cx="395.8" cy="114.7" rx="4.8" ry="0.8" fill="#fcac1c" opacity="0.8"/>
<ellipse cx="423.6" cy="33.5" rx="1.9" ry="1.5" fill="#f4801a" opacity="0.8"/>
<ellipse cx="348.7" cy="33.5" rx="4.4" ry="1.3" fill="#fcac1c" opacity="0.8"/>
<ellipse cx="393.2" cy="134.9" rx="4.3" ry="0.7" fill="#ea5c16" opacity="0.8"/>
<ellipse cx="410.3" cy="165.4" rx="4.4" ry="1.1" fill="#ea5c16" opacity="0.8"/>
<ellipse cx="374.5" cy="31.1" rx="4.2" ry="0.9" fill="#fcac1c" opacity="0.8"/>
<ellipse cx="388.9" cy="75.9" rx="3.9" ry="1.1" fill="#ea5c16" opacity="0.8"/>
<ellipse cx="417.3" cy="53.6" rx="2.0" ry="0.9" fill="#ea5c16" opacity="0.8"/>
<ellipse cx="409.5" cy="75.5" rx="2.3" ry="1.3" fill="#ea5c16" opacity="0.8"/>
<ellipse cx="388.6" cy="64.6" rx="4.6" ry="0.9" fill="#ea5c16" opacity="0.8"/>
<ellipse cx="370.9" cy="75.1" rx="4.0" ry="1.3" fill="#fcac1c" opacity="0.8"/>
<ellipse cx="390.0" cy="40.0" rx="4.2" ry="0.9" fill="#ea5c16" opacity="0.8"/>
<ellipse cx="379.9" cy="167.4" rx="2.8" ry="1.0" fill="#f4801a" opacity="0.8"/>
<ellipse cx="426.0" cy="83.1" rx="2.0" ry="1.4" fill="#fcac1c" opacity="0.8"/>
<ellipse cx="373.9" cy="139.5" rx="2.8" ry="1.0" fill="#fcac1c" opacity="0.8"/>
<ellipse cx="406.1" cy="95.5" rx="4.4" ry="0.7" fill="#ea5c16" opacity="0.8"/>
<ellipse cx="377.2" cy="38.1" rx="4.7" ry="0.8" fill="#ea5c16" opacity="0.8"/>
<ellipse cx="417.1" cy="163.3" rx="4.8" ry="1.0" fill="#f4801a" opacity="0.8"/>
<ellipse cx="358.1" cy="128.9" rx="4.8" ry="0.9" fill="#ea5c16" opacity="0.8"/>
<ellipse cx="401.1" cy="152.4" rx="4.0" ry="1.6" fill="#ea5c16" opacity="0.8"/>
<ellipse cx="376.6" cy="45.8" rx="2.5" ry="1.5" fill="#ea5c16" opacity="0.8"/>
<ellipse cx="361.6" cy="77.6" rx="1.7" ry="1.0" fill="#ea5c16" opacity="0.8"/>
<ellipse cx="356.6" cy="102.7" rx="3.4" ry="1.2" fill="#fcac1c" opacity="0.8"/>
<ellipse cx="388.9" cy="161.4" rx="1.8" ry="0.9" fill="#ea5c16" opacity="0.8"/>
<ellipse cx="371.6" cy="135.3" rx="4.7" ry="1.2" fill="#ea5c16" opacity="0.8"/>
<ellipse cx="373.2" cy="108.5" rx="2.5" ry="1.4" fill="#f4801a" opacity="0.8"/>
<ellipse cx="383.6" cy="113.3" rx="4.5" ry="1.1" fill="#ea5c16" opacity="0.8"/>
<ellipse cx="422.3" cy="165.7" rx="1.6" ry="1.4" fill="#ea5c16" opacity="0.8"/>
<ellipse cx="351.0" cy="51.8" rx="2.1" ry="1.4" fill="#ea5c16" opacity="0.8"/>
<ellipse cx="348.4" cy="59.7" rx="4.3" ry="1.1" fill="#fcac1c" opacity="0.8"/>
<ellipse cx="384.0" cy="54.5" rx="1.6" ry="1.0" fill="#ea5c16" opacity="0.8"/>
<ellipse cx="367.6" cy="115.5" rx="2.8" ry="1.1" fill="#fcac1c" opacity="0.8"/>
<ellipse cx="372.2" cy="78.8" rx="4.6" ry="1.2" fill="#ea5c16" opacity="0.8"/>
<ellipse cx="390.0" cy="93.4" rx="2.7" ry="1.5" fill="#ea5c16" opacity="0.8"/>
<ellipse cx="421.7" cy="148.2" rx="4.6" ry="0.8" fill="#fcac1c" opacity="0.8"/>
<ellipse cx="425.6" cy="69.4" rx="2.1" ry="1.4" fill="#ea5c16" opacity="0.8"/>
<ellipse cx="393.5" cy="51.0" rx="4.8" ry="1.0" fill="#ea5c16" opacity="0.8"/>
<ellipse cx="401.8" cy="77.5" rx="3.5" ry="1.1" fill="#f4801a" opacity="0.8"/>
<ellipse cx="387.9" cy="82.0" rx="1.5" ry="1.1" fill="#ea5c16" opacity="0.8"/>
<ellipse cx="392.7" cy="117.3" rx="3.1" ry="0.8" fill="#ea5c16" opacity="0.8"/>
<ellipse cx="385.3" cy="118.7" rx="4.9" ry="1.0" fill="#ea5c16" opacity="0.8"/>
<ellipse cx="353.6" cy="140.8" rx="2.3" ry="1.4" fill="#fcac1c" opacity="0.8"/>
<ellipse cx="367.2" cy="155.2" rx="3.3" ry="1.1" fill="#fcac1c" opacity="0.8"/>
<ellipse cx="422.5" cy="97.5" rx="3.2" ry="1.0" fill="#f4801a" opacity="0.8"/>
<ellipse cx="387.0" cy="76.9" rx="2.2" ry="0.9" fill="#f4801a" opacity="0.8"/>
<ellipse cx="411.1" cy="165.8" rx="4.7" ry="1.3" fill="#fcac1c" opacity="0.8"/>
<ellipse cx="403.7" cy="142.2" rx="4.3" ry="0.9" fill="#f4801a" opacity="0.8"/>
<ellipse cx="371.1" cy="63.1" rx="4.7" ry="0.7" fill="#fcac1c" opacity="0.8"/>
<ellipse cx="374.3" cy="139.7" rx="3.6" ry="1.5" fill="#f4801a" opacity="0.8"/>
<ellipse cx="398.3" cy="38.0" rx="3.8" ry="0.8" fill="#f4801a" opacity="0.8"/>
<ellipse cx="416.5" cy="72.4" rx="2.2" ry="1.3" fill="#fcac1c" opacity="0.8"/>
<ellipse cx="425.6" cy="116.1" rx="1.9" ry="1.4" fill="#ea5c16" opacity="0.8"/>
<ellipse cx="416.2" cy="136.5" rx="4.2" ry="1.5" fill="#fcac1c" opacity="0.8"/>
<ellipse cx="422.3" cy="118.3" rx="3.2" ry="1.0" fill="#ea5c16" opacity="0.8"/>
<ellipse cx="348.6" cy="51.5" rx="4.3" ry="0.9" fill="#fcac1c" opacity="0.8"/>
<ellipse cx="408.8" cy="126.1" rx="3.3" ry="1.0" fill="#ea5c16" opacity="0.8"/>
<ellipse cx="361.8" cy="119.6" rx="3.9" ry="1.5" fill="#ea5c16" opacity="0.8"/>
<ellipse cx="421.0" cy="156.4" rx="2.5" ry="1.6" fill="#fcac1c" opacity="0.8"/>
<ellipse cx="423.8" cy="137.2" rx="2.7" ry="1.0" fill="#fcac1c" opacity="0.8"/>
<ellipse cx="385.8" cy="33.9" rx="4.5" ry="1.2" fill="#ea5c16" opacity="0.8"/>
<ellipse cx="406.4" cy="63.9" rx="2.2" ry="1.2" fill="#ea5c16" opacity="0.8"/>
<ellipse cx="373.0" cy="38.8" rx="1.7" ry="1.0" fill="#fcac1c" opacity="0.8"/>
<ellipse cx="422.7" cy="118.4" rx="3.0" ry="1.1" fill="#ea5c16" opacity="0.8"/>
<ellipse cx="384.7" cy="163.1" rx="1.9" ry="1.1" fill="#fcac1c" opacity="0.8"/>
<ellipse cx="407.8" cy="106.6" rx="3.7" ry="1.5" fill="#f4801a" opacity="0.8"/>
<ellipse cx="366.9" cy="104.7" rx="5.0" ry="1.2" fill="#ea5c16" opacity="0.8"/>
<ellipse cx="408.1" cy="37.0" rx="2.0" ry="1.2" fill="#ea5c16" opacity="0.8"/>
<ellipse cx="404.4" cy="130.6" rx="2.6" ry="1.4" fill="#fcac1c" opacity="0.8"/>
<ellipse cx="403.3" cy="92.8" rx="3.0" ry="0.8" fill="#ea5c16" opacity="0.8"/>
<ellipse cx="423.2" cy="153.2" rx="1.7" ry="0.8" fill="#ea5c16" opacity="0.8"/>
<ellipse cx="402.4" cy="90.2" rx="1.9" ry="1.1" fill="#fcac1c" opacity="0.8"/>
<ellipse cx="406.3" cy="85.3" rx="3.8" ry="1.3" fill="#fcac1c" opacity="0.8"/>
<ellipse cx="350.5" cy="128.3" rx="1.9" ry="0.7" fill="#ea5c16" opacity="0.8"/>
<ellipse cx="348.1" cy="39.2" rx="2.9" ry="1.1" fill="#ea5c16" opacity="0.8"/>
<ellipse cx="423.1" cy="148.1" rx="3.2" ry="1.2" fill="#ea5c16" opacity="0.8"/>
<ellipse cx="425.5" cy="45.8" rx="2.6" ry="0.9" fill="#f4801a" opacity="0.8"/>
<ellipse cx="387.5" cy="86.4" rx="2.9" ry="1.5" fill="#ea5c16" opacity="0.8"/>
<ellipse cx="410.1" cy="128.0" rx="3.1" ry="1.0" fill="#ea5c16" opacity="0.8"/>
<ellipse cx="383.0" cy="73.1" rx="3.7" ry="1.1" fill="#ea5c16" opacity="0.8"/>
<ellipse cx="408.6" cy="92.6" rx="3.2" ry="1.5" fill="#ea5c16" opacity="0.8"/>
<ellipse cx="376.9" cy="154.5" rx="4.9" ry="1.4" fill="#ea5c16" opacity="0.8"/>
<ellipse cx="400.5" cy="132.6" rx="2.5" ry="1.4" fill="#f4801a" opacity="0.8"/>
<ellipse cx="399.3" cy="122.5" rx="3.0" ry="1.3" fill="#ea5c16" opacity="0.8"/>
<ellipse cx="408.4" cy="104.4" rx="4.9" ry="1.0" fill="#fcac1c" opacity="0.8"/>
<ellipse cx="348.1" cy="87.2" rx="4.2" ry="0.9" fill="#fcac1c" opacity="0.8"/>
<ellipse cx="364.5" cy="84.7" rx="5.0" ry="0.9" fill="#f4801a" opacity="0.8"/>
<ellipse cx="351.6" cy="110.5" rx="4.4" ry="1.5" fill="#ea5c16" opacity="0.8"/>
<ellipse cx="394.0" cy="128.6" rx="4.2" ry="1.4" fill="#fcac1c" opacity="0.8"/>
</g>
<ellipse cx="399.2" cy="40.4" rx="3.4" ry="1.1" fill="#fbe0c0" transform="rotate(12 399.2 40.4)"/>
<ellipse cx="396" cy="52.7" rx="2.6" ry="0.8" fill="#fbdcb8"/>
<path d="M347.8,114.7 Q372.0,114.2 387.0,108.7 Q402.0,114.2 425.8,114.7 L425.8,120.7 Q402.0,121.2 387.0,126.7 Q372.0,121.2 347.8,120.7 Z" fill="#f0d42c" filter="url(#blur1)"/>
<path d="M360.8,117.10000000000001 Q375.0,116.10000000000001 387.0,111.7 Q399.0,116.10000000000001 416.8,117.10000000000001 L416.8,118.3 Q399.0,119.3 387.0,123.7 Q375.0,119.3 360.8,118.3 Z" fill="#c4dc2c" filter="url(#blur1)"/>
<path d="M386.4,30.0 L387.6,30.0 L389.2,57.0 L392.6,117.7 L390.0,167.8 L384.0,167.8 L381.4,117.7 L384.8,57.0 Z" fill="url(#vstreak)" filter="url(#blur1)"/>
<path d="M387.0,54.0 L389.6,117.7 L388.0,151.8 L386.0,151.8 L384.4,117.7 Z" fill="#a2d42c" filter="url(#blur1)"/>
<path d="M374.0,117.7 Q383.0,115.7 386.5,106.7 Q391.0,115.7 400.0,117.7 Q391.0,119.7 387.5,128.7 Q383.0,119.7 374.0,117.7 Z" fill="#3cc040" filter="url(#blur1)"/>
<ellipse cx="387.0" cy="117.7" rx="7.6" ry="4.4" fill="#20a8b8" filter="url(#blur05)"/>
<ellipse cx="387.0" cy="117.7" rx="6.0" ry="3.2" fill="#2430c4" filter="url(#blur05)" transform="rotate(12 387.0 117.7)"/>
<ellipse cx="387.0" cy="117.7" rx="3.2" ry="1.7" fill="#8a50d8" filter="url(#blur05)" transform="rotate(12 387.0 117.7)"/>
</g>
<rect x="350.8" y="32.0" width="72.0" height="133.8" fill="none" stroke="#3a2a1a" stroke-width="1"/>
<line x1="348.3" y1="46.2" x2="353.8" y2="46.2" stroke="#2a1a10" stroke-width="1.1"/>
<text x="347.9" y="49.6" text-anchor="end" font-family="'Liberation Serif', serif" font-size="10.3" fill="#222" stroke="#222" stroke-width="0.12" letter-spacing="1.2">3.10</text>
<line x1="348.3" y1="74.2" x2="353.8" y2="74.2" stroke="#2a1a10" stroke-width="1.1"/>
<text x="347.9" y="77.6" text-anchor="end" font-family="'Liberation Serif', serif" font-size="10.3" fill="#222" stroke="#222" stroke-width="0.12" letter-spacing="1.2">3.06</text>
<line x1="348.3" y1="102.1" x2="353.8" y2="102.1" stroke="#2a1a10" stroke-width="1.1"/>
<text x="347.9" y="105.5" text-anchor="end" font-family="'Liberation Serif', serif" font-size="10.3" fill="#222" stroke="#222" stroke-width="0.12" letter-spacing="1.2">3.02</text>
<line x1="348.3" y1="130.2" x2="353.8" y2="130.2" stroke="#2a1a10" stroke-width="1.1"/>
<text x="347.9" y="133.6" text-anchor="end" font-family="'Liberation Serif', serif" font-size="10.3" fill="#222" stroke="#222" stroke-width="0.12" letter-spacing="1.2">2.98</text>
<line x1="348.3" y1="158.2" x2="353.8" y2="158.2" stroke="#2a1a10" stroke-width="1.1"/>
<text x="347.9" y="161.6" text-anchor="end" font-family="'Liberation Serif', serif" font-size="10.3" fill="#222" stroke="#222" stroke-width="0.12" letter-spacing="1.2">2.94</text>
<text x="350.20000000000005" y="179.1" text-anchor="middle" font-family="'Liberation Serif', serif" font-size="10.3" fill="#222" stroke="#222" stroke-width="0.12" letter-spacing="1.2">0.99</text>
<text x="387.20000000000005" y="179.1" text-anchor="middle" font-family="'Liberation Serif', serif" font-size="10.3" fill="#222" stroke="#222" stroke-width="0.12" letter-spacing="1.2">1.00</text>
<text x="424.0" y="179.1" text-anchor="middle" font-family="'Liberation Serif', serif" font-size="10.3" fill="#222" stroke="#222" stroke-width="0.12" letter-spacing="1.2">1.01</text>
<text x="371" y="193.8" font-family="'Liberation Serif', serif" font-size="11" fill="#333" stroke="#333" stroke-width="0.2" letter-spacing="1.9">[h00]</text>
<text transform="translate(317.3,111.4) rotate(-90)" font-family="'Liberation Serif', serif" font-size="11" fill="#333" stroke="#333" stroke-width="0.2" letter-spacing="0.6">[001]</text>
<text x="358.4" y="27.9" font-family="'Liberation Serif', serif" font-size="12.2" fill="#1a1a1a" stroke="#1a1a1a" stroke-width="0.15" letter-spacing="0.9">(103)RSM</text>
<rect x="392" y="72.6" width="26.3" height="12.3" fill="#fffdf8"/>
<text x="394.3" y="81.8" font-family="'Liberation Serif', serif" font-size="8.6" fill="#1a1a1a" stroke="#1a1a1a" stroke-width="0.15">LSCO</text>
<rect x="392" y="98.3" width="26.3" height="11.9" fill="#fffdf8"/>
<text x="394.3" y="106.6" font-family="'Liberation Serif', serif" font-size="8.6" fill="#1a1a1a" stroke="#1a1a1a" stroke-width="0.15">LSAT</text>
<rect x="392" y="123.1" width="26.3" height="11.9" fill="#fffdf8"/>
<text x="394.3" y="131.4" font-family="'Liberation Serif', serif" font-size="8.6" fill="#1a1a1a" stroke="#1a1a1a" stroke-width="0.15">LSMO</text>
<rect x="427.6" y="52.6" width="5.6" height="93.2" fill="url(#cbar)" stroke="#2a1a1a" stroke-width="0.9"/>
<line x1="431.3" y1="53.5" x2="433.3" y2="53.5" stroke="#222" stroke-width="0.9"/>
<text x="436.6" y="57.5" font-family="'Liberation Sans', sans-serif" font-size="10.8" fill="#1a1a1a" stroke="#1a1a1a" stroke-width="0.15">10<tspan dy="-4.8" font-size="7.6">6</tspan></text>
<line x1="431.3" y1="68.9" x2="433.3" y2="68.9" stroke="#222" stroke-width="0.9"/>
<text x="436.6" y="72.9" font-family="'Liberation Sans', sans-serif" font-size="10.8" fill="#1a1a1a" stroke="#1a1a1a" stroke-width="0.15">10<tspan dy="-4.8" font-size="7.6">5</tspan></text>
<line x1="431.3" y1="84.3" x2="433.3" y2="84.3" stroke="#222" stroke-width="0.9"/>
<text x="436.6" y="88.3" font-family="'Liberation Sans', sans-serif" font-size="10.8" fill="#1a1a1a" stroke="#1a1a1a" stroke-width="0.15">10<tspan dy="-4.8" font-size="7.6">4</tspan></text>
<line x1="431.3" y1="99.6" x2="433.3" y2="99.6" stroke="#222" stroke-width="0.9"/>
<text x="436.6" y="103.6" font-family="'Liberation Sans', sans-serif" font-size="10.8" fill="#1a1a1a" stroke="#1a1a1a" stroke-width="0.15">10<tspan dy="-4.8" font-size="7.6">3</tspan></text>
<line x1="431.3" y1="115.0" x2="433.3" y2="115.0" stroke="#222" stroke-width="0.9"/>
<text x="436.6" y="119.0" font-family="'Liberation Sans', sans-serif" font-size="10.8" fill="#1a1a1a" stroke="#1a1a1a" stroke-width="0.15">10<tspan dy="-4.8" font-size="7.6">2</tspan></text>
<line x1="431.3" y1="130.4" x2="433.3" y2="130.4" stroke="#222" stroke-width="0.9"/>
<text x="436.6" y="134.4" font-family="'Liberation Sans', sans-serif" font-size="10.8" fill="#1a1a1a" stroke="#1a1a1a" stroke-width="0.15">10<tspan dy="-4.8" font-size="7.6">1</tspan></text>
</svg>
</body></html>
